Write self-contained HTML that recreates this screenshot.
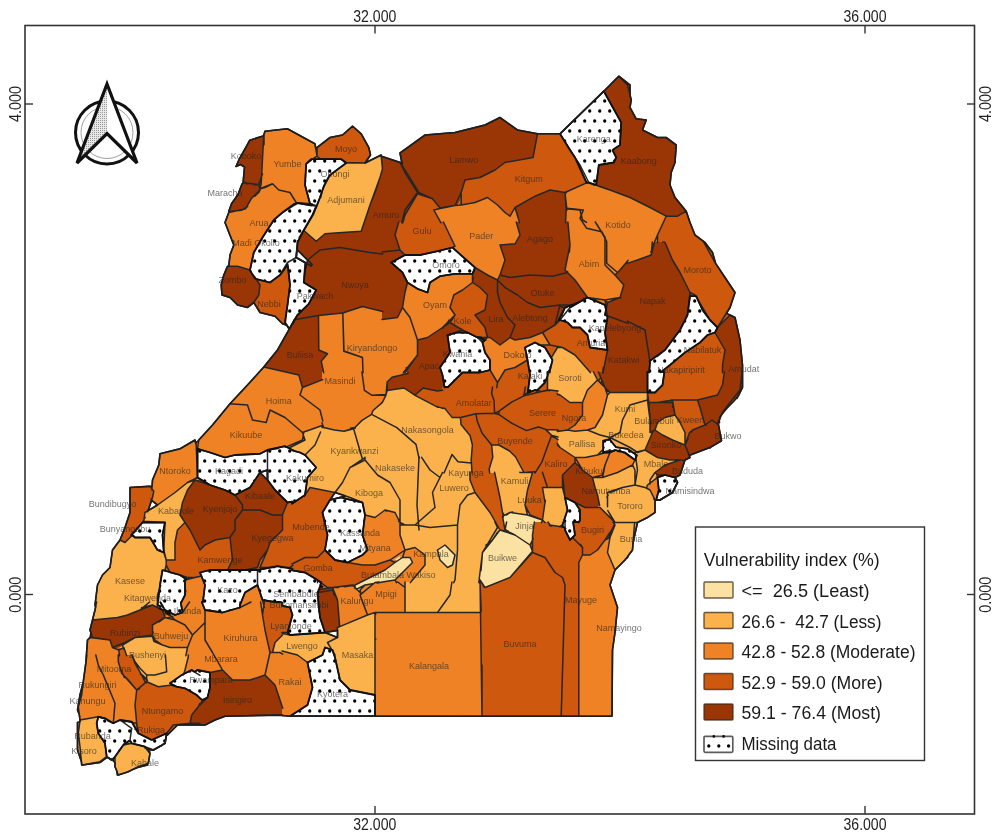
<!DOCTYPE html>
<html><head><meta charset="utf-8">
<style>
html,body{margin:0;padding:0;background:#fff;width:1000px;height:840px;overflow:hidden}
svg{display:block;-webkit-font-smoothing:antialiased;font-family:"Liberation Sans",sans-serif}
.least{fill:#FCE2A2}.less{fill:#FCB24C}.mod{fill:#EE8224}.more{fill:#CE580E}.most{fill:#9A3506}.na{fill:url(#dots)}
path{stroke:none}
.ol{fill:none;stroke:#1e1e1e;stroke-width:1.6;stroke-linejoin:round}
.nab{fill:none;stroke:#111;stroke-width:1.8;stroke-linejoin:round}
.bd{fill:none;stroke:#262626;stroke-width:1.5;stroke-linejoin:round;stroke-linecap:round}
.lab{font-size:9px;fill:#262626;fill-opacity:0.65}
.ax{font-size:16px;fill:#222}
.lg{font-size:17.5px;fill:#1a1a1a}
</style></head><body>
<svg width="1000" height="840" viewBox="0 0 1000 840">
<defs>
<pattern id="dots" patternUnits="userSpaceOnUse" width="10" height="20" x="0" y="1">
<rect width="10" height="20" fill="#fff"/><circle cx="4.7" cy="0" r="1.65" fill="#000"/><circle cx="4.7" cy="20" r="1.65" fill="#000"/><circle cx="-0.3" cy="10" r="1.65" fill="#000"/><circle cx="9.7" cy="10" r="1.65" fill="#000"/>
</pattern>
<pattern id="gdots" patternUnits="userSpaceOnUse" width="2" height="2">
<rect width="2" height="2" fill="#e8e8e8"/><rect width="1" height="1" fill="#9a9a9a"/>
</pattern>
</defs>
<rect x="0" y="0" width="1000" height="840" fill="#fff"/>
<g id="map">
<path class="least" d="M512.0,512.2L510.0,512.5L502.5,516.2L505.0,530.0L507.0,531.0L506.2,531.2L504.5,531.5L500.0,530.0L492.5,540.0L487.7,543.8L482.5,552.5L478.8,582.5L480.1,583.5L480.0,580.0L485.0,587.5L510.0,577.5L532.5,551.2L530.0,545.0L532.5,540.0L532.5,535.0L534.4,522.0L538.7,522.0L541.7,522.0L542.5,520.0L540.4,519.3L540.4,519.2L540.4,519.2L538.0,518.2L530.0,515.0L528.3,511.7L526.4,510.7L527.5,515.0L512.0,512.8ZM492.5,540.0L498.2,532.4L497.5,532.5ZM450.0,550.0L445.0,545.0L437.5,550.0L440.0,560.0L447.5,567.5L452.5,565.0L455.0,555.0ZM400.4,558.9L400.4,558.9L400.3,558.6L400.2,558.4L400.1,558.2L400.0,557.9L400.0,557.7L400.0,557.4L400.0,557.2L400.1,556.9L400.1,556.7L400.3,556.1L395.0,559.7L396.1,560.3L396.3,560.4L396.5,560.5L396.7,560.7L396.9,560.9L397.0,561.0L397.1,561.1L395.0,562.5L385.0,570.0L370.0,577.5L355.0,585.0L355.0,587.5L356.7,589.2L358.5,591.0L360.1,590.3L360.0,590.0L365.0,585.0L373.8,583.5L375.0,582.5L379.0,582.0L383.0,582.0L395.0,580.0L402.5,572.5L412.5,562.5L410.0,557.5L402.5,557.5Z"/>
<path class="less" d="M305.0,440.0L290.0,447.5L289.3,448.4L295.0,451.2L300.0,452.5L305.0,455.0L316.2,467.5L307.5,477.5L305.0,495.0L310.0,487.5L335.0,492.5L350.0,497.5L345.7,496.1L341.2,497.2L346.3,498.9L362.5,502.5L365.0,515.0L375.0,517.5L385.0,510.0L395.0,512.5L400.0,522.5L400.0,525.0L400.0,535.0L405.0,550.0L415.0,547.5L425.0,555.0L425.0,565.0L412.5,580.0L410.9,582.0L405.0,582.0L405.0,612.5L437.5,612.5L462.0,612.5L480.5,612.5L480.1,583.9L480.0,583.5L478.8,582.5L482.5,552.5L487.7,543.8L492.5,540.0L497.5,532.5L498.2,532.4L500.0,530.0L490.0,512.5L475.0,492.5L470.0,480.0L470.0,473.0L472.0,473.0L471.4,463.0L471.2,459.4L472.4,445.0L470.0,435.4L461.0,424.6L460.4,417.4L452.0,417.4L444.8,408.4L442.0,408.1L442.0,408.2L438.0,406.8L438.0,407.3L416.0,395.8L414.8,395.2L404.0,388.0L387.2,390.4L386.0,394.6L382.0,394.8L382.0,395.2L386.0,395.2L382.4,402.4L372.8,410.8L371.6,414.4L362.0,420.4L354.8,427.6L344.0,431.2L334.4,430.0L323.6,427.6L322.8,425.3L303.8,432.0L303.3,435.0ZM498.5,532.0L498.4,532.0L498.3,531.8L498.2,531.8L500.0,530.0ZM447.5,567.5L440.0,560.0L437.5,550.0L445.0,545.0L450.0,550.0L455.0,555.0L452.5,565.0ZM187.5,482.5L175.0,492.5L157.5,505.0L145.0,512.5L143.8,521.2L145.9,521.4L145.3,522.5L165.0,522.5L162.5,535.0L163.8,552.5L157.5,550.0L150.0,537.5L135.0,537.5L132.5,535.0L125.0,542.5L120.0,540.0L112.5,550.0L110.0,567.5L102.5,575.0L97.5,585.0L95.0,605.0L95.6,607.2L96.6,602.0L95.0,610.0L92.5,620.0L117.5,617.5L127.5,615.0L140.0,610.0L143.2,607.3L152.5,605.0L157.5,607.5L159.7,608.6L159.8,608.4L159.9,608.2L160.0,608.0L160.0,607.7L160.0,607.5L160.0,606.0L157.5,605.0L159.5,589.0L160.0,585.0L162.5,570.0L164.8,570.7L166.5,571.2L165.3,568.7L166.2,565.0L166.2,560.0L175.0,560.0L175.0,542.5L177.5,530.0L185.0,522.5L180.0,515.0L182.5,502.5L187.5,490.0L195.0,480.0ZM282.0,633.4L282.0,635.5L275.0,642.5L272.5,652.5L280.0,652.5L282.0,653.8L282.0,651.1L297.5,655.0L307.5,662.5L322.5,655.0L325.0,647.5L331.9,649.8L332.5,650.0L333.1,651.9L334.4,655.8L335.0,657.5L340.0,680.0L350.0,690.0L362.5,692.5L375.0,695.0L375.0,640.0L375.0,612.5L367.5,615.0L337.5,627.5L337.5,637.5L325.0,632.5L290.0,635.0L287.5,632.5L285.0,632.5L283.8,633.8ZM120.9,648.9L121.0,648.9L123.2,647.8L122.8,646.1L120.4,647.0L120.8,648.4L120.8,648.6ZM123.8,647.5L126.4,655.0L131.9,655.0L135.0,663.3L141.5,674.7L141.7,675.0L142.7,677.1L146.7,679.5L146.7,681.7L158.3,686.7L171.7,685.0L172.5,684.6L170.0,683.3L181.7,675.0L183.7,674.0L185.0,670.0L188.3,656.7L188.3,655.0L186.0,655.0L187.5,647.5L170.0,647.5L162.5,645.0L153.8,641.2L152.5,636.2L135.0,637.5L122.5,645.0L123.2,647.8ZM96.7,723.3L98.3,716.7L80.0,720.0L79.8,721.9L77.5,722.5L77.5,750.0L81.4,761.6L81.7,765.0L100.0,761.7L82.5,764.9L82.5,765.0L100.0,762.5L107.3,757.1L106.7,756.7L105.0,743.3L98.3,733.3ZM129.8,743.7L131.7,743.3L130.7,741.4L130.7,741.4L130.4,741.3L128.8,740.9L126.2,742.8L123.3,745.0ZM115.0,756.7L112.5,760.0L115.0,762.5L115.0,766.7L116.7,770.8L117.5,775.0L118.2,774.8L118.3,775.0L128.3,771.7L133.3,769.2L137.5,767.5L147.5,765.0L147.7,763.5L148.3,763.3L150.0,753.3L149.5,752.7L150.0,750.0L146.7,748.9L145.0,746.7L131.7,743.3L123.3,745.0ZM316.2,241.2L325.0,233.8L342.5,232.5L361.2,231.2L365.0,220.0L370.0,205.0L380.0,177.5L382.5,168.8L381.2,156.2L381.4,156.3L381.2,155.0L365.0,163.0L346.2,163.0L330.0,175.0L323.8,186.2L320.0,197.5L315.9,208.0L315.5,207.9L312.5,215.0L302.9,231.7L303.8,230.5ZM386.0,394.6L386.6,392.5L386.2,392.5ZM504.4,515.3L510.0,512.5L512.0,512.2L512.0,512.8L527.5,515.0L525.8,508.1L526.1,507.2L525.0,505.0L527.5,490.0L532.5,472.5L525.0,472.5L524.0,472.6L515.6,457.0L509.6,451.0L498.8,445.0L491.6,445.0L492.8,457.0L489.2,469.0L489.6,473.0L494.8,473.0L500.0,497.5L502.5,512.5ZM547.5,389.9L548.0,389.8L558.0,391.1L558.0,394.2L560.0,395.0L570.0,402.5L582.5,402.5L587.5,390.0L597.5,380.0L593.5,372.0L589.9,372.0L575.0,355.0L562.5,347.5L557.5,347.5L551.2,357.9L552.5,360.0L550.0,370.0L550.0,372.0L547.5,372.0ZM648.5,404.2L648.3,404.2L648.1,404.2L648.0,404.2L647.5,400.0L647.5,392.5L610.0,392.5L607.5,395.0L602.5,415.0L595.0,427.5L587.5,430.0L575.0,431.2L567.5,430.0L558.0,431.4L558.0,430.1L545.6,429.4L551.6,435.4L552.0,435.5L552.2,435.8L558.0,439.7L558.0,444.5L558.0,445.5L560.0,447.5L575.0,457.5L585.0,457.5L597.5,455.0L602.8,453.2L604.3,451.8L604.3,451.8L603.2,452.0L603.2,448.8L603.2,440.8L608.9,439.4L609.5,439.2L610.6,440.6L616.0,447.2L621.6,448.0L627.2,448.8L629.8,450.5L630.0,450.5L632.5,452.2L632.5,452.3L635.2,454.2L635.2,454.2L636.8,455.2L635.8,458.2L635.2,460.0L633.7,459.0L635.0,460.0L633.9,462.3L635.0,469.9L634.0,463.0L634.5,466.5L634.3,466.7L634.2,466.8L634.0,467.0L633.8,467.1L633.6,467.2L632.5,465.0L617.5,472.5L602.5,477.5L592.5,477.5L595.0,487.5L597.5,495.0L599.4,504.7L607.0,493.0L607.3,496.5L607.5,498.5L608.7,512.1L608.8,512.8L609.7,513.7L614.7,522.0L613.0,522.0L615.0,525.0L612.5,528.8L610.0,535.0L608.3,538.3L610.0,537.5L607.5,552.5L615.0,570.0L625.0,560.0L625.9,558.8L627.5,557.5L628.2,555.7L632.5,550.0L634.1,529.0L633.1,542.4L637.5,522.5L647.5,517.5L655.0,512.5L655.0,500.0L650.0,490.0L646.4,488.2L647.5,485.0L650.0,483.1L652.5,481.2L652.5,480.8L656.8,474.3L655.0,472.5L665.0,465.0L680.0,460.0L670.0,460.0L657.5,457.5L645.0,450.0L652.5,432.5L650.0,432.5L650.0,420.0L648.1,405.1L648.3,406.7L649.4,412.2L648.9,404.2L648.8,404.2ZM632.8,449.4L630.8,448.0L630.0,447.5ZM650.0,420.0L649.4,412.2L648.3,406.7ZM657.5,422.5L655.0,430.0L662.5,435.0L672.5,440.0L685.0,445.0L685.0,432.5L680.0,422.5L675.0,415.0L665.0,417.5ZM575.0,457.5L575.0,460.0L576.5,460.0ZM607.5,498.5L607.0,493.0L598.0,507.0L609.0,515.0ZM542.5,520.0L544.5,522.0L548.0,522.0L550.0,525.0L559.4,526.6L562.5,525.0L567.5,510.0L565.0,497.5L562.5,487.5L542.5,487.5L545.0,502.5Z"/>
<path class="mod" d="M297.5,203.0L311.8,205.5L311.9,205.4L312.1,205.2L312.2,205.0L312.3,204.8L312.4,204.5L312.4,204.4L310.0,203.8L305.0,185.0L306.2,163.8L311.2,159.2L312.7,159.2L317.1,159.2L318.4,158.3L318.6,158.1L318.8,158.0L318.9,157.8L317.0,156.2L315.0,143.8L298.8,135.0L287.5,128.8L265.0,131.2L263.8,135.0L261.2,183.8L260.0,188.8L258.8,191.2L251.2,198.8L245.5,208.8L228.8,212.5L225.0,222.5L233.8,245.0L230.0,255.0L228.8,266.2L237.5,266.2L250.0,270.0L253.8,252.5L262.5,237.5L273.8,220.0L282.5,212.5L294.2,204.0L294.3,204.0L294.4,204.2L294.6,204.4L294.8,204.6L294.9,204.6ZM302.5,387.5L298.8,375.0L263.8,367.0L247.5,385.0L230.0,403.8L212.5,425.0L198.8,440.0L197.1,441.8L195.8,443.2L195.0,440.0L180.0,448.8L160.0,453.8L158.8,465.0L152.5,480.0L152.1,486.1L150.0,486.2L151.9,488.8L153.8,491.2L152.5,497.5L151.6,500.3L157.5,505.0L175.0,492.5L187.5,482.5L195.0,480.0L196.9,480.6L198.6,479.7L198.8,479.6L199.0,479.5L199.2,479.3L199.4,479.2L199.5,479.0L199.6,478.8L197.5,477.5L197.5,451.4L197.5,448.8L210.0,452.5L225.0,457.5L235.0,455.0L260.0,453.8L267.5,450.0L285.0,446.2L286.3,446.9L289.3,448.4L290.0,447.5L305.0,440.0L303.3,435.0L303.8,432.0L303.8,432.0L322.8,425.3L323.6,427.6L334.4,430.0L344.0,431.2L354.8,427.6L362.0,420.4L371.6,414.4L372.8,410.8L382.4,402.4L386.0,395.2L382.0,395.2L382.0,394.8L386.0,394.6L387.2,382.0L392.0,377.2L407.6,373.6L408.0,372.0L403.9,372.0L417.5,355.0L417.5,340.0L427.5,337.5L442.5,327.5L444.4,326.2L447.5,322.5L447.9,323.2L448.3,321.7L455.0,315.0L450.0,307.5L453.8,295.0L462.5,290.0L472.5,282.5L472.5,273.8L455.0,273.8L440.0,276.2L430.0,282.5L427.5,292.5L417.5,288.8L407.5,282.5L405.0,292.5L402.5,307.5L397.5,317.5L382.0,319.4L382.0,311.3L362.5,306.5L342.8,313.0L318.5,315.5L318.8,350.0L327.5,353.8L321.2,361.2L323.6,372.0L322.0,372.0L322.0,379.9ZM165.0,610.0L169.7,614.7L169.1,614.9L166.3,613.4L166.9,615.3L166.2,615.5L166.0,615.6L165.8,615.7L165.5,615.8L165.3,615.9L165.1,616.1L164.9,616.2L164.8,616.4L164.7,616.6L165.0,617.5L152.5,625.0L152.5,635.0L155.0,640.0L155.2,640.2L155.2,640.2L154.9,640.3L154.7,640.4L154.5,640.5L154.2,640.5L154.0,640.5L153.6,640.5L153.8,641.2L162.5,645.0L170.0,647.5L187.5,647.5L186.0,655.0L188.3,655.0L188.3,656.7L185.0,670.0L183.7,674.0L191.7,670.0L194.6,671.9L197.5,670.0L210.0,672.5L222.5,670.0L232.5,680.0L250.0,680.0L265.0,675.0L275.0,685.0L280.0,700.0L282.0,706.0L282.0,715.5L290.0,716.2L307.5,705.0L312.5,687.5L307.5,662.5L297.5,655.0L282.0,651.1L282.0,653.8L280.0,652.5L270.0,652.5L265.0,630.0L262.5,615.0L263.9,605.5L262.5,600.0L257.5,585.0L245.0,592.5L240.0,605.0L240.0,607.5L222.5,612.5L205.0,610.0L201.8,602.0L202.9,602.0L205.0,585.0L201.4,575.9L195.0,577.5L185.0,580.0L185.0,595.0L180.9,603.1L182.5,612.5L175.0,615.0ZM116.7,648.5L116.8,648.5L119.2,647.5L119.2,647.5L115.9,648.8L112.5,647.5L110.0,640.0L90.0,637.5L87.5,640.0L85.9,662.4L86.7,656.7L83.3,681.7L81.7,695.0L83.3,681.7L80.0,695.0L77.5,710.0L79.3,714.5L80.0,720.0L98.3,716.7L105.0,718.3L113.3,723.3L120.0,720.0L131.7,721.7L132.1,722.4L136.7,723.3L135.0,705.0L136.7,690.0L123.5,675.3L123.3,675.0L121.7,673.3L118.3,661.7L118.3,655.0L119.4,655.0L118.8,650.0L116.4,649.1L116.5,648.9L116.6,648.7ZM136.5,723.3L132.1,722.4L136.1,729.4L137.5,730.0ZM317.0,156.2L317.0,147.5L315.8,148.5ZM415.0,358.1L407.5,367.5L408.9,367.0L415.0,358.5ZM387.2,390.4L387.2,382.0L386.2,392.5L386.6,392.5ZM400.1,556.9L400.0,557.2L400.0,557.4L400.0,557.7L400.0,557.9L400.1,558.2L400.2,558.4L400.3,558.6L400.4,558.9L400.4,558.9L402.5,557.5L410.0,557.5L412.5,562.5L402.5,572.5L395.0,580.0L383.0,582.0L379.0,582.0L375.0,582.5L361.4,593.9L373.8,583.5L365.0,585.0L360.0,590.0L360.1,590.3L358.5,591.0L360.8,593.3L352.5,585.0L332.5,587.5L333.5,592.0L337.5,600.0L339.7,626.6L367.5,615.0L375.0,612.5L375.0,716.2L462.0,716.2L482.0,716.2L480.5,612.5L462.0,612.5L405.0,612.5L405.0,587.5L405.0,582.0L410.9,582.0L412.5,580.0L425.0,565.0L425.0,555.0L415.0,547.5L405.0,550.0L400.0,535.0L400.0,525.0L400.0,522.5L395.0,512.5L385.0,510.0L375.0,517.5L365.0,515.0L362.5,535.0L367.5,550.0L362.5,555.0L347.5,562.5L362.5,565.0L375.0,565.0L390.0,560.0L392.6,561.3L400.3,556.1L400.1,556.7ZM458.8,205.0L458.8,203.5L457.9,205.3L458.8,205.2ZM518.8,220.0L515.0,207.5L510.0,216.2L505.0,212.5L497.5,205.0L487.5,197.5L475.0,202.5L461.2,205.0L457.9,205.3L455.0,205.5L433.8,210.0L440.6,222.0L443.4,222.0L455.0,246.2L452.5,247.5L465.0,258.8L475.0,267.5L487.5,275.0L497.5,280.0L500.0,275.0L505.0,260.0L500.0,245.0L515.0,243.8L520.0,235.0L516.3,222.0L519.2,222.0ZM628.0,260.4L628.0,263.2L637.5,260.0L651.2,255.0L651.6,250.8L651.7,250.8L652.5,250.0L654.5,242.0L654.5,242.0L657.2,242.0L657.5,241.3L657.5,235.0L666.2,216.2L650.0,207.5L630.0,197.5L610.0,190.0L596.2,185.0L587.5,182.5L565.0,192.5L566.2,208.8L565.6,222.0L567.9,222.0L570.0,245.0L565.0,270.0L567.5,272.5L575.0,280.0L587.5,297.5L588.5,297.9L588.5,297.9L588.5,297.9L605.0,305.0L605.7,304.8L605.0,300.0L607.5,302.5L620.0,297.5L623.8,285.0L615.0,275.0L620.0,270.0ZM654.5,242.0L654.5,242.0L657.5,235.0ZM651.6,250.5L652.3,242.0L651.8,248.3ZM606.0,307.0L605.9,306.4L605.0,305.0L605.4,306.8ZM540.0,345.0L550.0,345.0L542.5,332.5L530.0,337.5L515.0,340.0L510.0,337.5L500.0,345.0L490.0,337.5L487.5,337.5L482.5,342.5L485.0,352.5L490.0,360.0L490.0,370.0L497.5,382.5L505.0,370.0L515.0,367.5L527.5,360.0L525.0,347.5L535.0,342.5ZM587.5,390.0L582.5,402.5L582.5,415.0L575.0,425.0L567.5,430.0L575.0,431.2L587.5,430.0L595.0,427.5L602.5,415.0L607.5,395.0L610.0,392.5L608.9,391.4L606.1,390.9L605.0,387.5L601.1,383.6L601.7,379.8L600.8,377.6L598.5,381.0L597.5,380.0ZM634.3,466.7L634.5,466.5L633.9,462.3L635.0,460.0L625.0,452.5L615.0,450.0L610.0,452.5L605.0,452.5L597.5,455.0L585.0,457.5L575.0,457.5L576.5,460.0L575.0,460.0L575.0,462.4L575.2,462.7L582.5,470.0L592.5,477.5L602.5,477.5L617.5,472.5L632.5,465.0L633.6,467.2L633.8,467.1L634.0,467.0L634.2,466.8ZM656.3,477.2L656.1,477.1L655.9,476.9L655.7,476.8L655.4,476.4L652.5,480.8L652.5,481.2L647.5,485.0L646.4,488.2L650.0,490.0L654.7,499.4L655.0,500.0L656.2,500.0L658.8,490.0L657.5,477.5L657.3,477.5L657.0,477.5L656.8,477.4L656.5,477.3ZM607.5,552.5L610.0,537.5L605.0,540.0L597.5,550.0L590.0,555.0L582.5,555.0L578.8,562.5L578.8,716.2L612.0,716.2L612.5,650.0L615.0,632.5L617.5,607.5L610.0,585.0L615.0,570.0Z"/>
<path class="more" d="M342.5,135.0L330.0,137.5L317.0,147.5L317.0,156.2L318.9,157.8L318.8,158.0L318.6,158.1L318.4,158.3L317.1,159.2L341.2,159.2L346.2,163.0L365.0,163.0L365.0,163.0L365.0,163.0L370.5,155.0L368.8,147.5L361.2,133.8L352.5,126.2ZM417.5,193.8L405.0,215.0L403.0,222.0L398.7,222.0L395.0,235.0L400.0,250.0L405.0,255.0L420.0,255.0L437.5,251.2L452.5,247.5L455.0,246.2L443.4,222.0L440.6,222.0L433.8,210.0L440.1,208.6L440.0,208.0L432.5,198.8ZM251.2,272.5L255.0,278.8L255.8,278.9ZM282.5,323.8L286.2,325.0L286.8,325.2L285.0,322.5L287.5,305.0L290.0,285.0L287.5,262.5L288.0,266.6L287.7,267.0L287.5,265.0L280.0,275.0L270.0,282.5L255.8,278.9L260.0,285.0L258.8,295.0L253.8,302.5L260.0,312.5L275.0,316.2ZM438.0,406.8L442.0,408.2L442.0,408.1L444.8,408.4L452.0,417.4L460.4,417.4L461.0,424.6L470.0,435.4L472.4,445.0L471.2,459.4L472.0,473.0L470.0,473.0L470.0,480.0L475.0,492.5L490.0,512.5L500.0,530.0L504.5,531.5L506.2,531.2L507.0,531.0L506.1,530.6L505.0,530.0L502.5,516.2L503.2,515.9L504.4,515.3L502.5,512.5L500.0,497.5L494.8,473.0L489.6,473.0L489.2,469.0L492.8,457.0L491.6,445.0L498.8,445.0L509.6,451.0L515.6,457.0L524.0,472.6L527.4,472.3L525.0,472.5L532.5,472.5L527.5,490.0L525.0,505.0L526.1,507.2L525.8,508.1L526.4,510.7L528.3,511.7L530.0,515.0L542.5,520.0L545.0,502.5L542.5,487.5L547.5,487.5L562.5,487.5L562.5,475.0L575.0,462.5L575.0,457.5L560.0,447.5L558.0,445.5L558.0,439.7L551.6,435.4L545.6,429.4L558.0,430.1L558.0,431.4L567.5,430.0L575.0,425.0L582.5,415.0L582.5,402.5L570.0,402.5L560.0,395.0L558.0,394.2L558.0,391.1L548.0,389.8L547.5,389.9L547.5,376.2L545.0,382.5L537.1,390.4L535.0,390.0L527.8,392.9L530.0,375.0L527.5,360.0L515.0,367.5L505.0,370.0L497.5,382.5L490.0,370.0L480.0,372.5L462.5,372.5L452.5,382.5L448.0,387.0L442.0,387.0L442.0,390.4L438.0,390.9L438.0,391.1L423.2,388.0L414.8,395.2L416.0,395.8L438.0,407.3ZM524.0,395.8L541.8,391.4L547.3,390.0ZM143.8,521.2L144.0,519.5L145.0,512.5L148.1,510.6L152.5,497.5L153.8,491.2L150.0,486.2L130.0,487.5L130.0,500.0L130.0,512.5L125.0,527.5L120.0,540.0L125.0,542.5L132.0,535.5L131.2,535.0L142.5,522.5L145.3,522.5L145.9,521.4ZM305.0,495.0L292.0,503.7L292.0,501.6L287.5,502.5L282.5,515.0L282.5,530.0L270.0,542.5L267.5,550.0L261.2,558.5L258.3,565.2L257.5,567.5L257.5,567.7L257.5,568.0L257.6,568.2L257.7,568.4L257.8,568.7L257.9,568.9L258.1,569.1L258.2,569.3L258.4,569.4L258.6,569.6L258.8,569.7L258.9,569.7L270.8,567.5L277.5,566.2L285.0,567.5L285.0,567.5L292.0,568.7L292.0,570.3L305.0,572.5L317.5,580.0L320.2,582.0L321.2,582.0L321.0,582.6L320.3,585.2L325.0,588.8L332.5,587.5L352.5,585.0L352.9,585.4L355.0,585.0L370.0,577.5L385.0,570.0L395.0,562.5L397.1,561.1L397.0,561.0L396.9,560.9L396.7,560.7L396.5,560.5L396.3,560.4L396.1,560.3L395.0,559.7L392.6,561.3L390.0,560.0L375.0,565.0L362.5,565.0L347.5,562.5L335.0,560.0L325.0,550.0L327.5,535.0L322.5,512.5L330.0,500.0L335.0,492.5L310.0,487.5ZM200.0,572.5L210.0,570.0L227.5,570.0L232.5,560.0L230.0,537.5L215.0,540.0L205.0,545.0L200.0,550.0L195.0,540.0L190.0,530.0L185.0,522.5L177.5,530.0L175.0,542.5L175.0,560.0L166.2,560.0L166.2,565.0L169.8,572.1L180.0,575.0L186.8,579.5L195.0,577.5L201.4,575.9ZM169.8,572.1L166.2,565.0L165.3,568.7L166.5,571.2ZM355.0,585.0L352.9,585.4L355.0,587.5ZM270.0,652.5L272.5,652.5L275.0,642.5L282.0,635.5L282.0,633.4L283.8,633.8L285.0,632.5L287.5,632.5L292.5,615.0L290.0,607.5L282.0,605.5L282.0,602.6L280.0,602.0L274.5,602.0L262.5,600.0L263.9,605.5L262.5,615.0L265.0,630.0ZM116.7,648.5L116.6,648.7L116.5,648.9L116.4,649.1L118.8,650.0L119.4,655.0L118.3,655.0L118.3,661.7L121.7,673.3L123.3,675.0L123.5,675.3L136.7,690.0L135.0,705.0L136.7,723.3L136.5,723.3L137.5,730.0L137.8,730.2L138.3,733.3L151.7,740.0L166.7,733.3L166.3,735.5L167.5,735.0L177.5,725.0L192.5,725.0L191.7,723.3L190.0,723.3L191.7,715.0L198.3,706.7L200.0,703.3L200.0,705.0L202.5,700.0L200.0,698.3L196.7,695.0L185.0,688.3L176.7,686.7L171.7,685.0L158.3,686.7L146.7,681.7L146.7,679.5L142.7,677.1L145.5,682.6L141.7,675.0L135.0,663.3L131.9,655.0L126.4,655.0L123.8,647.5L121.0,648.9L120.9,648.9L120.8,648.6L120.8,648.4L120.4,647.0L116.8,648.5ZM560.0,133.8L537.5,133.8L533.0,157.5L505.0,162.5L495.0,170.0L480.0,177.5L465.0,180.0L461.2,192.5L461.2,198.3L458.8,203.5L458.8,205.0L458.8,205.2L461.2,205.0L475.0,202.5L487.5,197.5L497.5,205.0L505.0,212.5L510.0,216.2L515.0,207.5L535.0,196.2L550.0,190.0L565.0,192.5L586.6,182.9L575.0,157.5L570.0,150.0ZM480.0,287.5L472.5,282.5L462.5,290.0L453.8,295.0L450.0,307.5L455.0,315.0L448.3,321.7L447.9,323.2L448.2,323.7L450.0,322.5L462.5,330.0L453.8,332.9L454.0,333.4L457.5,332.5L465.0,332.5L467.5,332.5L477.5,337.5L487.5,337.5L485.0,327.5L475.0,315.0L485.0,310.0L487.5,295.0ZM498.3,531.8L498.4,532.0L498.5,532.0L500.0,530.0L498.2,531.8ZM512.0,575.2L510.0,577.5L485.0,587.5L480.0,580.0L482.0,716.2L561.2,716.2L578.8,716.2L578.8,562.5L582.5,555.0L590.0,555.0L597.5,550.0L605.0,540.0L608.3,538.3L610.0,535.0L612.5,528.8L615.0,525.0L613.0,522.0L614.5,522.0L614.7,522.0L609.7,513.7L608.8,512.8L609.0,515.0L603.5,511.0L598.7,507.5L585.0,507.5L575.0,502.5L580.0,510.0L580.0,520.0L579.0,522.0L573.1,522.0L575.0,535.0L572.5,537.5L570.0,540.0L565.0,530.0L565.0,527.5L559.4,526.6L550.0,525.0L548.0,522.0L544.5,522.0L542.5,520.0L541.7,522.0L534.4,522.0L532.5,535.0L532.5,540.0L530.0,545.0L532.5,551.2ZM657.5,235.0L657.5,241.3L657.2,242.0L655.0,242.0L657.5,242.0L663.0,242.0L665.0,242.5L672.5,260.0L680.0,272.5L690.0,292.5L692.4,293.7L692.1,296.2L695.8,296.2L696.2,296.2L697.8,299.7L702.5,310.0L710.0,320.0L717.5,327.5L725.4,319.6L728.7,314.3L726.4,313.2L730.0,307.5L735.0,292.5L725.0,277.5L715.6,263.4L712.5,252.5L705.0,242.5L695.0,235.0L690.0,222.5L686.2,211.2L677.5,216.2L666.2,216.2ZM558.8,320.0L555.3,323.8L555.0,325.0L559.4,320.6ZM542.5,332.5L550.0,345.0L540.0,345.0L545.0,347.5L551.2,357.9L557.5,347.5L562.5,347.5L575.0,355.0L589.9,372.0L593.5,372.0L597.5,380.0L598.5,381.0L600.8,377.6L598.4,372.0L603.1,372.0L607.5,350.0L590.0,347.5L587.5,335.0L580.0,327.5L572.5,327.5L567.5,322.5L560.0,320.0L555.0,325.0ZM700.0,342.5L685.0,352.5L670.0,365.0L661.2,372.0L664.4,372.0L662.5,385.0L655.0,392.5L647.5,392.5L647.8,395.0L647.7,395.0L647.5,395.0L647.5,400.0L648.0,404.2L648.1,404.2L648.3,404.2L648.5,404.2L648.8,404.2L648.9,404.2L648.8,402.5L657.5,402.5L668.2,402.5L672.5,402.5L672.7,403.3L673.1,405.6L675.0,415.0L680.0,422.5L685.0,432.5L685.0,445.0L689.5,432.8L692.5,430.0L705.0,425.0L700.0,407.5L697.5,400.0L717.5,395.0L722.5,385.0L724.4,372.0L722.5,372.0L722.5,365.0L725.0,350.0L715.0,332.5L707.5,335.0ZM672.5,400.0L669.7,400.5L667.2,400.9ZM673.0,403.2L672.6,400.8L672.5,400.0ZM550.0,372.0L550.0,370.0L549.2,372.0ZM563.0,527.2L562.5,525.0L559.4,526.6Z"/>
<path class="most" d="M242.0,184.0L238.0,194.5L231.5,203.8L228.8,211.5L229.1,211.5L228.8,212.5L236.5,210.8L243.6,209.2L245.5,208.8L246.3,207.3L251.2,198.8L258.8,191.2L259.9,189.0L260.0,188.8L260.7,185.8L261.2,183.8L261.6,176.5L263.7,135.8L263.8,135.0L263.4,135.9L249.8,140.2L245.8,147.5L239.2,159.2L236.0,166.5L240.5,164.5L244.5,167.0L243.2,181.5L243.1,182.9ZM307.5,260.0L305.0,270.0L303.8,282.5L316.2,290.0L308.8,303.8L297.5,315.0L294.5,319.8L288.8,330.0L277.5,350.0L263.8,367.0L298.8,375.0L302.5,387.5L322.0,379.9L322.0,372.0L323.6,372.0L321.2,361.2L327.5,353.8L318.8,350.0L318.5,315.5L342.8,313.0L362.5,306.5L378.0,310.3L382.0,311.3L382.0,319.4L397.5,317.5L402.5,307.5L405.0,292.5L407.5,282.5L402.5,272.5L391.2,262.5L405.0,255.0L400.0,250.0L395.0,235.0L398.7,222.0L402.0,222.0L403.0,222.0L405.0,215.0L407.3,211.1L407.3,211.1L407.3,211.0L417.5,193.8L419.3,194.3L432.5,198.8L440.0,208.0L440.1,208.6L455.0,205.5L457.9,205.3L461.2,198.3L461.2,192.5L465.0,180.0L480.0,177.5L495.0,170.0L505.0,162.5L533.0,157.5L537.5,133.8L517.5,130.0L500.0,117.5L485.0,125.0L455.0,132.5L425.0,135.0L400.0,153.0L401.9,163.1L400.0,162.5L381.2,156.2L382.5,168.8L380.0,177.5L370.0,205.0L361.2,231.2L342.5,232.5L325.0,233.8L316.2,241.2L303.8,230.5L302.9,231.7L302.5,232.5L297.5,242.5L296.9,249.4L297.5,250.0ZM258.8,295.0L260.0,285.0L255.8,278.9L255.0,278.8L251.2,272.5L250.0,270.0L237.5,266.2L227.5,266.2L223.8,275.0L221.2,285.0L222.0,295.0L230.0,297.5L237.5,305.0L247.5,307.5L253.8,302.5ZM250.0,487.5L235.0,495.0L225.0,490.0L210.0,485.0L200.1,479.1L199.6,478.9L199.5,479.0L199.4,479.2L199.2,479.3L199.0,479.5L198.8,479.6L198.6,479.7L197.5,480.3L197.5,480.4L197.4,480.6L197.4,480.8L196.9,480.6L195.0,480.0L187.5,490.0L182.5,502.5L180.0,515.0L185.0,522.5L190.0,530.0L195.0,540.0L200.0,550.0L205.0,545.0L215.0,540.0L230.0,537.5L232.5,560.0L227.5,570.0L245.0,570.0L257.5,570.0L258.4,569.8L258.4,569.8L258.7,569.7L258.7,569.7L258.6,569.6L258.4,569.4L258.2,569.3L258.1,569.1L257.9,568.9L257.8,568.7L257.7,568.4L257.6,568.2L257.5,568.0L257.5,567.7L257.5,567.5L257.9,566.3L258.3,565.2L261.2,558.5L267.5,550.0L270.0,542.5L282.5,530.0L282.5,515.0L287.5,502.5L275.0,490.0L267.5,480.0L260.0,472.5ZM319.0,589.8L318.2,592.4L317.5,592.5L320.0,617.5L325.0,632.5L337.5,630.4L337.5,627.5L339.7,626.6L337.5,600.0L333.5,592.0L332.5,587.5L325.0,588.8L322.2,586.7L319.8,587.1ZM127.5,615.0L117.5,617.5L92.5,620.0L90.0,630.0L90.9,632.7L90.4,637.1L90.0,637.5L90.3,637.5L94.0,638.0L98.4,638.6L110.0,640.0L112.5,647.5L115.9,648.8L122.8,646.1L122.5,645.0L132.9,638.8L135.0,637.5L152.5,636.2L152.9,638.0L153.6,640.5L154.0,640.5L154.2,640.5L154.5,640.5L154.7,640.4L154.9,640.3L155.2,640.2L155.2,640.2L155.0,640.0L154.0,638.0L152.5,635.0L152.5,625.0L165.0,617.5L164.7,616.6L164.8,616.4L164.9,616.2L165.1,616.1L165.3,615.9L165.5,615.8L165.8,615.7L166.0,615.6L166.2,615.5L166.9,615.3L165.2,610.2L165.0,610.0L164.7,609.5L164.7,609.5L164.4,609.7L164.2,609.7L164.0,609.8L163.7,609.9L163.5,609.9L163.2,609.9L163.0,609.8L162.7,609.8L162.5,609.7L159.7,608.6L159.7,608.6L152.5,605.0L143.2,607.3L140.0,610.0ZM250.0,680.0L232.5,680.0L222.5,670.0L210.0,672.5L210.0,687.5L207.5,697.5L202.5,700.0L200.0,705.0L200.0,703.3L198.3,706.7L191.7,715.0L190.0,723.3L191.7,723.3L192.5,725.0L205.0,725.0L215.0,720.0L225.0,716.2L282.0,715.1L282.0,706.0L280.0,700.0L275.0,685.0L265.0,675.0ZM519.2,222.0L516.3,222.0L520.0,235.0L515.0,243.8L500.0,245.0L505.0,260.0L500.0,275.0L497.5,280.0L487.5,275.0L475.0,267.5L472.5,273.8L472.5,282.5L480.0,287.5L487.5,295.0L485.0,310.0L475.0,315.0L485.0,327.5L487.5,337.5L490.0,337.5L500.0,345.0L510.0,337.5L515.0,340.0L530.0,337.5L542.5,332.5L555.0,325.0L559.6,306.4L555.3,323.8L558.8,320.0L565.0,307.5L571.7,305.0L572.5,305.0L575.0,303.8L579.5,302.0L585.2,298.8L587.4,297.6L587.4,297.6L587.5,297.5L575.0,280.0L567.5,272.5L565.0,270.0L570.0,245.0L567.9,222.0L565.6,222.0L566.2,208.8L565.0,192.5L550.0,190.0L535.0,196.2L515.0,207.5L518.8,220.0ZM605.0,305.0L605.9,306.4L605.7,304.8ZM427.5,337.5L417.5,340.0L417.5,355.0L415.0,358.1L415.0,358.5L408.9,367.0L407.5,367.5L403.9,372.0L405.4,372.0L408.0,372.0L407.6,373.6L392.0,377.2L387.2,382.0L387.2,390.4L404.0,388.0L414.8,395.2L423.2,388.0L438.0,391.1L438.0,390.9L442.0,390.4L442.0,387.0L444.5,387.0L442.5,375.0L440.0,367.5L450.0,352.5L447.5,335.0L462.5,330.0L450.0,322.5L448.2,323.7L447.5,322.5L444.4,326.2L442.5,327.5ZM447.5,335.0L454.0,333.4L453.8,332.9ZM485.0,340.0L487.5,337.5L480.0,337.5ZM605.0,387.5L606.1,390.9L608.9,391.4L610.0,392.5L647.5,392.5L647.5,372.0L649.2,372.0L650.0,362.5L645.0,330.0L649.8,360.9L665.0,350.0L680.0,330.0L687.5,315.0L690.0,296.2L692.1,296.2L692.4,293.7L690.0,292.5L680.0,272.5L672.5,260.0L665.0,242.5L663.0,242.0L654.5,242.0L652.5,250.0L651.6,250.9L651.2,255.0L637.5,260.0L628.0,263.2L628.0,260.4L620.0,270.0L615.0,275.0L623.8,285.0L620.0,297.5L607.5,302.5L605.0,300.0L606.2,308.8L605.0,315.0L607.3,315.8L607.5,317.5L605.0,332.5L607.5,350.0L603.1,372.0L598.4,372.0L601.7,379.8L601.1,383.6ZM575.0,502.5L585.0,507.5L598.7,507.5L598.0,507.0L599.4,504.7L597.5,495.0L595.0,487.5L592.5,477.5L582.5,470.0L575.0,462.5L562.5,475.0L562.5,487.5L565.0,497.5ZM621.2,122.5L620.0,145.0L612.5,150.0L616.2,157.5L613.8,162.5L598.8,165.0L596.2,185.0L610.0,190.0L630.0,197.5L650.0,207.5L666.2,216.2L677.5,216.2L686.2,211.2L675.0,197.5L670.0,185.0L671.2,172.5L675.0,162.5L676.2,145.0L666.2,137.5L657.5,137.5L642.5,130.0L646.2,120.0L636.2,118.8L630.0,107.5L631.2,100.0L630.0,95.0L630.0,85.0L618.8,76.2L603.8,91.2ZM742.5,365.0L740.0,340.0L735.0,317.5L730.0,315.0L728.7,314.3L725.4,319.6L717.5,327.5L715.0,332.5L725.0,350.0L722.5,365.0L722.5,372.0L724.4,372.0L722.5,385.0L717.5,395.0L697.5,400.0L700.0,407.5L705.0,425.0L692.5,430.0L689.5,432.8L685.0,445.0L672.5,440.0L662.5,435.0L655.0,430.0L657.5,422.5L665.0,417.5L675.0,415.0L672.5,402.5L648.8,402.5L650.0,420.0L650.0,432.5L652.5,432.5L645.0,450.0L657.5,457.5L670.0,460.0L680.0,460.0L665.0,465.0L655.0,472.5L656.8,474.3L655.4,476.4L655.7,476.8L655.9,476.9L656.1,477.1L656.3,477.2L656.5,477.3L656.8,477.4L657.0,477.5L657.3,477.5L657.5,477.5L665.0,475.0L675.0,477.5L680.0,475.0L685.0,460.0L690.0,457.5L689.2,455.4L689.5,455.2L708.5,448.0L710.2,448.0L710.5,447.2L721.5,440.8L718.5,424.8L718.9,422.5L719.1,421.6L719.3,420.5L720.0,416.8L721.6,414.8L726.5,408.8L734.2,400.8L738.5,395.6L742.5,387.5ZM686.0,447.3L685.9,447.3L685.0,445.0ZM718.9,421.4L718.7,422.1L719.3,420.5ZM718.5,422.5L717.8,424.2L718.7,422.1ZM647.7,395.0L647.8,395.0L647.5,392.5L647.5,395.0Z"/>
<path class="na" d="M142.5,522.5L131.2,535.0L132.0,535.5L132.5,535.0L135.0,537.5L150.0,537.5L157.5,550.0L163.8,552.5L162.5,535.0L165.0,522.5ZM205.0,585.0L202.9,602.0L201.8,602.0L205.0,610.0L222.5,612.5L240.0,607.5L240.0,605.0L245.0,592.5L257.5,585.0L262.5,600.0L274.5,602.0L280.0,602.0L282.0,602.6L282.0,605.5L290.0,607.5L292.5,615.0L287.5,632.5L290.0,635.0L325.0,632.5L320.0,617.5L317.7,594.4L317.5,592.5L318.2,592.4L319.8,587.1L322.2,586.7L322.4,586.8L320.3,585.2L321.0,582.6L320.5,584.7L321.2,582.0L320.2,582.0L318.0,580.4L317.5,580.0L305.0,572.5L292.0,570.3L292.0,568.7L277.5,566.2L257.5,570.0L245.0,570.0L227.5,570.0L210.0,570.0L200.0,572.5ZM162.5,570.0L160.0,585.0L157.5,605.0L160.0,606.0L160.0,607.5L160.0,607.7L160.0,608.0L159.9,608.2L159.8,608.4L159.7,608.6L162.5,609.7L162.7,609.8L163.0,609.8L163.2,609.9L163.5,609.9L163.7,609.9L164.0,609.8L164.2,609.7L164.4,609.7L164.7,609.5L164.7,609.5L165.0,610.0L175.0,615.0L182.5,612.5L180.9,603.1L185.0,595.0L185.0,580.0L186.8,579.5L180.0,575.0ZM160.2,602.0L163.5,607.5L163.4,607.4ZM166.3,613.4L169.1,614.9L169.7,614.7L165.2,610.2ZM210.0,672.5L197.5,670.0L194.6,671.9L191.7,670.0L181.7,675.0L170.0,683.3L176.7,686.7L185.0,688.3L196.7,695.0L200.0,698.3L202.5,700.0L207.5,697.5L210.0,687.5ZM172.8,684.7L172.5,684.6L171.7,685.0L172.3,685.2L176.7,686.7ZM137.5,730.0L136.1,729.4L138.3,733.3L137.8,730.2ZM151.7,740.0L138.3,733.3L131.7,721.7L120.0,720.0L113.3,723.3L105.0,718.3L98.3,716.7L96.7,723.3L98.3,733.3L105.0,743.3L106.7,756.7L111.7,760.0L112.1,759.6L112.5,760.0L115.0,756.7L123.3,745.0L128.8,740.9L130.4,741.3L130.7,741.4L130.7,741.4L131.7,743.3L145.0,746.7L146.1,748.2L152.5,750.0L152.9,749.8L153.3,750.0L159.2,746.7L162.5,745.0L162.6,744.7L162.1,745.0L165.0,743.3L166.7,733.3ZM311.8,205.5L297.5,203.0L294.9,204.6L294.8,204.6L294.6,204.4L294.4,204.2L294.3,204.0L294.2,204.0L282.5,212.5L273.8,220.0L262.5,237.5L253.8,252.5L250.0,270.0L251.2,272.5L252.2,273.9L255.8,278.9L270.0,282.5L280.0,275.0L287.5,265.0L287.7,267.0L288.0,266.6L290.0,285.0L287.5,305.0L285.0,322.5L289.3,329.0L294.5,319.8L297.5,315.0L308.8,303.8L316.2,290.0L303.8,282.5L305.0,270.0L306.6,263.4L305.0,262.5L296.2,257.5L297.5,242.5L302.5,232.5L312.5,215.0L315.5,207.9L315.9,208.0L316.8,205.7L320.0,197.5L322.5,190.0L323.8,186.2L326.2,181.8L329.7,175.5L330.0,175.0L346.2,163.0L341.2,159.2L311.2,159.2L306.2,163.8L305.0,185.0L310.0,203.8L312.4,204.4L312.4,204.5L312.3,204.8L312.2,205.0L312.1,205.2L311.9,205.4ZM452.5,247.5L437.5,251.2L420.0,255.0L405.0,255.0L391.2,262.5L402.5,272.5L407.5,282.5L417.5,288.8L427.5,292.5L430.0,282.5L440.0,276.2L455.0,273.8L472.5,273.8L475.0,267.5L465.0,258.8ZM490.0,360.0L485.0,352.5L482.5,342.5L483.0,342.0L484.8,340.2L484.5,339.8L480.0,337.5L477.5,337.5L467.5,332.5L457.5,332.5L447.5,335.0L450.0,352.5L440.0,367.5L442.5,375.0L444.5,387.0L448.0,387.0L452.5,382.5L462.5,372.5L480.0,372.5L490.0,370.0ZM287.5,502.5L292.0,501.6L292.0,503.7L305.0,495.0L307.5,477.5L316.2,467.5L305.0,455.0L300.0,452.5L295.0,451.2L285.0,446.2L267.5,450.0L260.0,453.8L235.0,455.0L225.0,457.5L210.0,452.5L197.5,448.8L197.5,477.5L210.0,485.0L225.0,490.0L235.0,495.0L250.0,487.5L260.0,472.5L267.5,470.0L267.5,480.0L275.0,490.0ZM362.5,502.5L346.3,498.9L341.2,497.2L340.0,497.5L330.0,500.0L322.5,512.5L327.5,535.0L325.0,550.0L335.0,560.0L347.5,562.5L362.5,555.0L367.5,550.0L362.5,535.0L365.0,515.0ZM340.0,680.0L335.0,657.5L332.5,650.0L325.0,647.5L322.5,655.0L307.5,662.5L312.5,687.5L307.5,705.0L290.0,716.2L375.0,716.2L375.0,695.0L362.5,692.5L350.0,690.0ZM612.5,150.0L620.0,145.0L621.2,122.5L603.8,91.2L560.0,133.8L570.0,150.0L575.0,157.5L586.6,182.9L587.5,182.5L595.0,184.7L595.1,184.6L588.8,182.5L596.2,185.0L598.8,165.0L613.8,162.5L616.2,157.5ZM605.4,306.8L606.0,310.0L606.2,308.8L606.0,307.0ZM559.4,320.6L560.0,320.0L567.5,322.5L572.5,327.5L580.0,327.5L587.5,335.0L590.0,347.5L607.5,350.0L605.0,332.5L607.5,317.5L607.3,315.8L607.2,315.8L607.2,315.8L605.0,315.0L606.0,310.0L605.0,305.0L587.5,297.5L570.0,307.5L579.5,302.0L575.0,303.8L572.5,305.0L571.7,305.0L565.0,307.5L558.8,320.0ZM710.0,320.0L702.5,310.0L696.2,296.2L690.0,296.2L687.5,315.0L680.0,330.0L665.0,350.0L649.8,360.9L650.0,362.5L649.2,372.0L647.5,372.0L647.5,392.5L655.0,392.5L662.5,385.0L664.4,372.0L661.2,372.0L670.0,365.0L685.0,352.5L700.0,342.5L707.5,335.0L715.0,332.5L717.5,327.5ZM552.5,360.0L545.0,347.5L535.0,342.5L525.0,347.5L527.5,360.0L530.0,375.0L527.8,392.9L535.0,390.0L537.1,390.4L545.0,382.5L547.5,376.2L547.5,372.0L549.2,372.0L550.0,370.0ZM632.5,452.2L630.0,450.5L629.8,450.5L627.2,448.8L616.0,447.2L609.5,439.2L603.2,440.8L603.2,452.0L604.3,451.8L604.3,451.8L602.8,453.2L605.0,452.5L610.0,452.5L613.2,450.9L615.0,450.0L625.0,452.5L633.7,459.0L635.2,460.0L636.8,455.2L632.5,452.3ZM675.0,477.5L665.0,475.0L657.5,477.5L658.8,490.0L656.2,500.0L660.0,500.0L672.5,492.5L677.5,482.5ZM565.0,527.5L565.0,530.0L570.0,540.0L575.0,535.0L573.1,522.0L579.0,522.0L580.0,520.0L580.0,510.0L575.0,502.5L565.0,497.5L567.5,510.0L562.5,525.0L563.0,527.2Z"/>
<path class="bd" d="M263.7,135.8L249.8,140.2L245.8,147.5L239.2,159.2L236.0,166.5L240.5,164.5L244.5,167.0L243.2,181.5L245.8,183.1M245.8,183.1L247.4,184.0M253.8,184.8L256.4,184.4M256.4,184.4L259.0,184.0L261.6,176.5M261.6,176.5L262.5,174.0M264.0,144.8L264.0,135.8M243.2,182.8L242.0,184.0L238.0,194.5L231.5,203.8L228.8,211.5L236.5,210.8M236.5,210.8L242.0,210.2L243.6,209.2M243.6,209.2L246.3,207.3M246.3,207.3L247.7,206.4M254.9,196.1L255.0,196.0L259.4,191.6M260.1,190.2L259.9,189.0M259.9,189.0L259.0,184.8L256.4,184.4M256.4,184.4L245.8,183.1M245.8,183.1L243.2,182.8M265.0,131.2L263.8,135.0L263.7,135.8M263.7,135.8L261.6,176.5M261.6,176.5L261.2,183.8L260.0,188.8M260.0,188.8L265.0,187.5L272.5,183.8M272.5,183.8L278.8,190.0M278.8,190.0L290.0,192.5M290.0,192.5L296.2,202.5M296.2,202.5L310.0,203.8M310.0,203.8L305.0,185.0M305.0,185.0L306.2,163.8M306.2,163.8L311.2,160.3M311.6,160.0L312.7,159.2M312.7,159.2L317.0,156.2M317.0,156.2L315.0,143.8L298.8,135.0L287.5,128.8L265.0,131.2M317.0,147.5L317.0,156.2M317.0,156.2L320.0,158.8L341.2,159.2M341.2,159.2L346.2,162.5L365.0,163.0M365.0,163.0L370.5,155.0L368.8,147.5L361.2,133.8L352.5,126.2L342.5,135.0L330.0,137.5L317.0,147.5M311.2,159.2L306.2,163.8M310.0,203.8L316.8,205.7M320.7,197.7L322.5,190.0M322.5,190.0L326.2,181.8M326.2,181.8L328.8,176.2L329.7,175.5M329.7,175.5L346.2,163.0M346.2,163.0L341.2,159.2M341.2,159.2L312.7,159.2M312.7,159.2L311.2,159.2M346.2,163.0L330.0,175.0L329.7,175.5M329.7,175.5L326.2,181.8M326.2,181.8L323.8,186.2L322.5,190.0M322.5,190.0L320.0,197.5L316.8,205.7M316.8,205.7L313.8,213.8L303.8,230.5M303.8,230.5L316.2,241.2M316.2,241.2L325.0,233.8M325.0,233.8L342.5,232.5M342.5,232.5L361.2,231.2M361.2,231.2L365.0,220.0M365.0,220.0L370.0,205.0M370.0,205.0L375.0,192.5L380.0,177.5M380.0,177.5L382.5,168.8M382.5,168.8L381.4,156.3M381.4,156.3L381.2,155.0L365.0,163.0M365.0,163.0L346.2,163.0M381.2,156.2L382.5,168.8M380.0,177.5L370.0,205.0M303.8,230.5L302.9,231.7M302.9,231.7L299.2,237.4M297.5,240.8L297.5,242.5M297.5,242.5L297.5,250.0L307.5,260.0M307.5,260.0L320.0,250.0M320.0,250.0L340.0,247.5M340.0,247.5L370.0,252.5M370.0,252.5L382.7,253.9M401.8,222.8L405.0,210.0L417.5,192.5L405.0,172.5L400.0,162.5L381.4,156.3M297.5,203.0L282.5,212.5M282.5,212.5L273.8,220.0M273.8,220.0L262.5,237.5M262.5,237.5L253.8,252.5M253.8,252.5L250.0,270.0M250.0,270.0L252.2,273.9M252.2,273.9L255.0,278.8M255.8,278.9L270.0,282.5M270.0,282.5L280.0,275.0M280.0,275.0L287.5,262.5M287.5,262.5L296.2,257.5M296.2,257.5L297.5,242.5M297.5,242.5L302.5,232.5L302.9,231.7M302.9,231.7L312.5,215.0L316.2,206.2L297.5,203.0M259.9,189.0L258.8,191.2L251.2,198.8L246.3,207.3M246.3,207.3L245.5,208.8L243.6,209.2M243.6,209.2L236.5,210.8M236.5,210.8L228.8,212.5L225.0,222.5L233.8,245.0L230.0,255.0L228.8,266.2M228.8,266.2L237.5,266.2M237.5,266.2L250.0,270.0M282.5,212.5L296.2,202.5M272.5,183.8L260.0,188.8M227.5,266.2L223.8,275.0L221.2,285.0L222.0,295.0L230.0,297.5L237.5,305.0L247.5,307.5L253.8,302.5M253.8,302.5L258.8,295.0M258.8,295.0L260.0,285.0M260.0,285.0L255.8,278.9M255.8,278.9L252.2,273.9M252.2,273.9L251.2,272.5M251.2,272.5L250.0,270.0M228.8,266.2L227.5,266.2M251.2,272.5L255.0,278.8M253.8,302.5L260.0,312.5L275.0,316.2L282.5,323.8L286.2,325.0L285.0,322.5M285.0,322.5L287.5,305.0M287.5,305.0L290.0,285.0M290.0,285.0L287.5,265.0L280.0,275.0M287.5,262.5L290.0,285.0M285.0,322.5L289.3,329.0M293.2,323.6L295.2,319.6M295.2,319.6L297.5,315.0M297.5,315.0L308.8,303.8M308.8,303.8L316.2,290.0M316.2,290.0L303.8,282.5M303.8,282.5L305.0,262.5L296.2,257.5M307.5,260.0L305.0,270.0L303.8,282.5M297.5,315.0L294.5,319.8M295.2,319.6L318.5,315.5M318.5,315.5L342.8,313.0M343.5,312.8L362.5,306.5M362.5,306.5L382.7,311.5M400.0,153.0L402.5,166.2L411.2,180.0L418.8,192.5L432.5,198.8M432.5,198.8L440.0,208.0M440.0,208.0L455.0,205.5M455.0,205.5L461.2,192.5M461.2,192.5L465.0,180.0M465.0,180.0L480.0,177.5M480.0,177.5L495.0,170.0M495.0,170.0L505.0,162.5M505.0,162.5L533.0,157.5M533.0,157.5L537.5,133.8M537.5,133.8L517.5,130.0L500.0,117.5L485.0,125.0L455.0,132.5L425.0,135.0L400.0,153.0M417.5,193.8L405.0,215.0L402.8,222.7M432.5,198.8L417.5,193.8M461.2,192.5L461.2,205.0M461.2,205.0L475.0,202.5M475.0,202.5L487.5,197.5M487.5,197.5L497.5,205.0M497.5,205.0L505.0,212.5M505.0,212.5L510.0,216.2M510.0,216.2L515.0,207.5M515.0,207.5L535.0,196.2M535.0,196.2L550.0,190.0M550.0,190.0L565.0,192.5M565.0,192.5L566.4,192.7M586.6,182.9L575.0,157.5M574.6,156.9L560.0,133.8M560.0,133.8L537.5,133.8M433.8,210.0L441.0,222.8M519.4,222.7L518.8,220.0M518.8,220.0L515.0,207.5M461.2,205.0L455.0,205.5M455.0,205.5L440.1,208.6M440.1,208.6L433.8,210.0M593.5,185.0L595.0,185.0L595.0,184.7M630.0,95.0L630.0,85.0M630.0,85.0L618.8,76.2M566.9,210.0L566.8,208.8M566.8,208.8L565.0,192.5M560.0,133.8L570.0,150.0L575.0,157.5M575.0,157.5L580.0,165.0L588.8,182.5L595.1,184.6M595.1,184.6L596.2,185.0M596.2,185.0L598.8,165.0M598.8,165.0L613.8,162.5M613.8,162.5L616.2,157.5M616.2,157.5L612.5,150.0M612.5,150.0L620.0,145.0M620.0,145.0L621.2,122.5M621.2,122.5L603.8,91.2M603.8,91.2L560.0,133.8M596.2,185.0L598.8,186.2L610.0,190.0M610.0,190.0L630.0,197.5M630.0,197.5L650.0,207.5M650.0,207.5L666.2,216.2M666.2,216.2L677.5,216.2M677.5,216.2L686.2,211.2M686.2,211.2L675.0,197.5L670.0,185.0L671.2,172.5L675.0,162.5L676.2,145.0L666.2,137.5L657.5,137.5L642.5,130.0L646.2,120.0L636.2,118.8L630.0,107.5L631.2,100.0L630.0,95.0M630.0,95.0L627.5,85.0L618.8,76.2M618.2,76.8L603.8,91.2M565.0,192.5L566.2,208.8M566.8,208.8L580.0,210.0M580.0,210.0L582.5,220.0M582.5,220.0L586.5,222.4M651.8,248.3L654.5,242.0M654.5,242.0L657.5,235.0M657.5,235.0L666.2,216.2M610.0,190.0L596.2,185.0M596.2,185.0L595.0,184.7M595.0,184.7L587.5,182.5L586.6,182.9M586.6,182.9L565.0,192.5M566.2,208.8L565.6,222.7M657.5,235.0L657.5,242.8M715.6,263.4L712.5,252.5L705.0,242.5L695.0,235.0L690.0,222.5L686.2,211.2M652.5,250.0L651.6,250.9M651.6,250.9L650.8,251.7M288.8,330.0L277.5,350.0L263.8,367.0M263.8,367.0L298.8,375.0M298.8,375.0L302.5,387.5M302.5,387.5L322.7,379.6M323.7,372.7L321.2,361.2M321.2,361.2L327.5,353.8M327.5,353.8L318.8,350.0M318.8,350.0L318.5,315.5M294.5,319.8L289.3,329.0M289.3,329.0L288.8,330.0M302.5,387.5L300.0,395.0M300.0,395.0L320.0,410.0M320.0,410.0L322.2,418.7M363.0,372.7L362.5,358.2M362.5,357.5L343.8,351.2M343.8,351.2L342.8,313.0M263.8,367.0L247.5,385.0L230.0,403.8M230.0,403.8L247.5,405.0M247.5,405.0L252.5,420.0M252.5,420.0L266.2,422.5M266.2,422.5L270.0,410.0M270.0,410.0L285.0,417.5M285.0,417.5L302.5,432.5M303.0,432.3L303.8,432.0M303.8,432.0L311.0,429.5M311.0,429.5L322.8,425.3M322.8,421.0L322.2,418.7M230.0,403.8L212.5,425.0L206.1,432.0M206.1,432.0L198.8,440.0M289.3,448.4L290.0,447.5M290.0,447.5L305.0,440.0M305.0,440.0L303.3,435.0M355.3,428.1L355.0,427.5L354.9,427.5M354.9,427.5L350.5,428.3M302.8,433.5L303.1,434.3M342.8,313.0L344.0,351.0L362.5,357.5M442.7,328.2L443.9,326.8M444.4,326.2L447.5,322.5M448.7,320.3L448.3,321.7M448.3,321.7L447.9,323.2M453.8,333.4L454.3,334.1M462.0,333.2L465.0,332.5M465.0,332.5L467.2,333.2M408.9,367.0L407.5,367.5M407.5,367.5L406.2,367.9M448.8,335.4L448.8,335.0L450.6,335.0M447.9,323.2L447.5,322.5M483.0,342.0L480.0,337.5M480.0,337.5L477.8,336.8M480.8,336.8L480.0,337.5M480.0,337.5L485.0,340.0M485.0,340.0L485.8,340.3M559.6,306.4L565.0,307.5M565.0,307.5L567.1,307.5M585.0,298.8L583.9,298.5M555.5,324.5L556.4,323.6M556.4,323.6L557.2,322.8M561.6,315.9L565.0,307.5M591.0,298.0L605.0,305.0M620.5,298.1L620.7,297.2M627.3,263.4L637.5,260.0M637.5,260.0L651.2,255.0M651.2,255.0L651.6,250.9M651.6,250.9L651.8,248.3M651.8,248.3L652.3,242.0M605.0,305.0L605.9,306.4M627.3,321.2L645.0,330.0M645.0,330.0L649.8,360.9M657.3,356.5L665.0,350.0M665.0,350.0L680.0,330.0M680.0,330.0L687.5,315.0M687.5,315.0L690.0,292.5M690.0,292.5L680.0,272.5M680.0,272.5L672.5,260.0M672.5,260.0L665.0,242.5M665.0,242.5L663.0,242.0M654.5,242.0L652.5,250.0M652.5,250.0L651.2,255.0M690.0,292.5L695.0,295.0L695.8,296.2M695.8,296.2L697.8,299.7M697.8,299.7L710.0,320.0M710.0,320.0L717.5,327.5M717.5,327.5L730.0,307.5L735.0,292.5L725.0,277.5L715.6,263.4M715.6,263.4L715.0,262.5L703.6,242.0M690.0,296.2L687.5,315.0M665.0,350.0L649.8,360.9M649.8,360.9L649.1,361.4M660.7,372.5L670.0,365.0M670.0,365.0L685.0,352.5M685.0,352.5L700.0,342.5M700.0,342.5L707.5,335.0M707.5,335.0L715.0,332.5M715.0,332.5L717.5,327.5M710.0,320.0L702.5,310.0L697.8,299.7M697.8,299.7L696.2,296.2L695.8,296.2M695.8,296.2L690.0,296.2M669.7,400.5L672.6,400.8M722.5,372.8L722.5,365.0M722.5,365.0L725.0,350.0M725.0,350.0L715.0,332.5M718.4,420.9L718.9,421.4M718.9,421.4L719.6,422.1M736.9,398.6L742.5,387.5L742.5,365.0L740.0,340.0L735.0,317.5L730.0,315.0L717.5,327.5M558.8,320.0L559.4,320.6M579.5,302.0L575.0,303.7M575.0,303.7L571.7,305.0M571.7,305.0L565.0,307.5M565.0,307.5L558.8,320.0M649.1,372.8L650.0,362.5L649.9,361.6M558.8,320.0L555.3,323.8M555.3,323.8L554.3,324.9M610.7,437.0L610.0,437.5M610.0,437.5L610.6,440.6M610.6,440.6L610.9,442.2M650.0,420.0L650.0,415.0L649.4,412.2M649.4,412.2L648.3,406.7M673.1,405.6L672.6,407.1M719.7,422.5L718.5,422.5M718.5,422.5L717.7,422.5M382.0,252.0L400.0,250.0M400.0,250.0L395.0,235.0M395.0,235.0L398.7,222.0M400.0,250.0L405.0,255.0M405.0,255.0L420.0,255.0M420.0,255.0L437.5,251.2M437.5,251.2L452.5,247.5M452.5,247.5L455.0,246.2M455.0,246.2L443.4,222.0M382.0,319.4L397.5,317.5M397.5,317.5L402.5,307.5M402.5,307.5L405.0,292.5M405.0,292.5L407.5,282.5M407.5,282.5L402.5,272.5M402.5,272.5L391.2,262.5M391.2,262.5L405.0,255.0M407.5,282.5L417.5,288.8M417.5,288.8L427.5,292.5M427.5,292.5L430.0,282.5M430.0,282.5L440.0,276.2M440.0,276.2L455.0,273.8M455.0,273.8L472.5,273.8M474.2,271.5L475.0,267.5M475.0,267.5L465.0,258.8M465.0,258.8L452.5,247.5M475.0,267.5L487.5,275.0M487.5,275.0L497.5,280.0M497.5,280.0L500.0,275.0M500.0,275.0L505.0,260.0M505.0,260.0L500.0,245.0M500.0,245.0L515.0,243.8M515.0,243.8L520.0,235.0M520.0,235.0L516.3,222.0M500.0,275.0L510.0,277.5M510.0,277.5L530.0,275.0M530.0,275.0L552.5,276.2M552.5,276.2L567.5,272.5M567.5,272.5L567.6,271.5M569.4,252.0L570.0,245.0M570.0,245.0L567.9,222.0M570.0,245.0L565.0,270.0L567.5,272.5M567.5,272.5L575.0,280.0M575.0,280.0L587.5,297.5M587.5,297.5L591.0,298.0M591.0,298.0L605.0,300.0M605.0,300.0L620.0,297.5M620.0,297.5L623.8,285.0M623.8,285.0L615.0,275.0M615.0,275.0L605.0,265.0M605.0,265.0L605.0,237.5M605.0,237.5L595.3,222.0M615.0,275.0L620.0,270.0M620.0,270.0L628.0,260.4M620.0,297.5L607.5,302.5M607.5,302.5L606.6,307.2M606.6,307.2L606.2,308.8M606.2,308.8L606.0,310.0M606.0,310.0L605.8,311.0M607.3,315.8L628.0,323.4M402.5,307.5L410.0,317.5M410.0,317.5L417.5,340.0M417.5,340.0L427.5,337.5M427.5,337.5L442.5,327.5M442.5,327.5L447.5,322.5M447.5,322.5L448.3,321.7M448.3,321.7L455.0,315.0M455.0,315.0L450.0,307.5M450.0,307.5L453.8,295.0M453.8,295.0L462.5,290.0M462.5,290.0L472.5,282.5M472.5,282.5L473.2,277.2M403.3,372.8L407.5,367.5M407.5,367.5L415.0,358.1M415.0,358.1L417.5,355.0M417.5,355.0L417.5,340.0M455.0,315.0L450.0,322.5M450.0,322.5L462.5,330.0M462.5,330.0L467.5,332.5M467.5,332.5L477.5,337.5M477.5,337.5L480.0,337.5M480.0,337.5L487.5,337.5M487.5,337.5L485.0,327.5M485.0,327.5L475.0,315.0M475.0,315.0L485.0,310.0M485.0,310.0L487.5,295.0M487.5,295.0L480.0,287.5M480.0,287.5L472.5,282.5M472.5,273.8L472.5,282.5M487.5,337.5L490.0,337.5M490.0,337.5L500.0,345.0M500.0,345.0L510.0,337.5M510.0,337.5L515.0,325.0M515.0,325.0L507.5,317.5M507.5,317.5L500.0,302.5M500.0,302.5L497.5,292.5M497.5,292.5L497.5,280.0M475.0,267.5L472.5,273.8M497.5,280.0L505.0,287.5M505.0,287.5L517.5,295.0M517.5,295.0L527.5,302.5M527.5,302.5L540.0,307.5M540.0,307.5L560.0,305.0M560.0,305.0L571.7,305.0M571.7,305.0L572.5,305.0L575.0,303.7M575.0,303.7L585.0,298.8M585.0,298.8L587.5,297.5M510.0,337.5L515.0,340.0M515.0,340.0L530.0,337.5M530.0,337.5L542.5,332.5M542.5,332.5L555.0,325.0M555.0,325.0L555.3,323.8M555.3,323.8L559.6,306.4M559.6,306.4L560.0,305.0M560.0,320.0L567.5,322.5M567.5,322.5L572.5,327.5M572.5,327.5L580.0,327.5M580.0,327.5L587.5,335.0M587.5,335.0L590.0,347.5M590.0,347.5L607.5,350.0M607.5,350.0L605.0,332.5M605.0,332.5L607.5,317.5M607.5,317.5L607.2,315.8M607.2,315.8L607.0,314.9M606.4,311.9L606.0,310.0M606.0,310.0L605.4,306.8M605.4,306.8L605.0,305.0M605.0,305.0L587.5,297.5M587.5,297.5L585.2,298.8M585.2,298.8L579.5,302.0M579.5,302.0L570.0,307.5L560.0,320.0M601.7,379.8L601.1,383.6M606.1,390.9L608.9,391.4M607.3,315.8L607.5,317.5M603.3,367.4L602.7,372.7M607.3,315.8L606.2,308.8M605.8,311.0L605.0,315.0L606.5,315.5M607.5,302.5L605.0,300.0M605.0,300.0L605.7,304.8M605.7,304.8L605.9,306.4M606.0,307.0L606.2,308.8M542.5,332.5L550.0,345.0M550.0,345.0L562.5,347.5M562.5,347.5L575.0,355.0M575.0,355.0L590.4,372.6M598.5,381.0L600.8,377.6M603.0,372.8L607.5,350.0M560.0,320.0L559.4,320.6M559.4,320.6L557.2,322.8M550.0,366.9L550.0,369.3M550.0,370.0L550.0,372.8M562.5,347.5L557.5,347.5M557.5,347.5L551.2,357.9M487.5,337.5L485.0,340.0M485.0,340.0L483.0,342.0M482.5,342.5L485.0,352.5M485.0,352.5L490.0,360.0M490.0,360.0L490.0,370.0M490.0,370.0L497.5,382.5M497.5,382.5L505.0,370.0M505.0,370.0L515.0,367.5M515.0,367.5L527.5,360.0M538.3,345.0L539.3,345.0M540.0,345.0L550.0,345.0M497.5,382.5L496.8,387.7M539.7,391.7L541.6,391.4M541.8,391.4L548.1,390.3M525.0,347.5L527.5,360.0M527.5,360.0L530.0,375.0L527.8,392.9M536.4,391.1L537.1,390.4M537.1,390.4L545.0,382.5L547.5,376.2M547.5,376.2L548.2,374.4M548.9,372.8L550.0,370.0M550.0,370.0L552.5,360.0L551.2,357.9M551.2,357.9L545.0,347.5L540.0,345.0M540.0,345.0L535.0,342.5L525.0,347.5M447.5,335.0L450.0,352.5M450.0,352.5L440.0,367.5M440.0,367.5L442.5,375.0M442.5,375.0L444.6,387.7M447.5,387.5L452.5,382.5M452.5,382.5L462.5,372.5M462.5,372.5L480.0,372.5M480.0,372.5L490.0,370.0M482.5,342.5L477.5,337.5M467.5,332.5L465.0,332.5M465.0,332.5L457.5,332.5L454.0,333.4M453.8,333.4L447.5,335.0M417.5,355.0L415.0,358.5M415.0,358.5L408.9,367.0M408.9,367.0L405.0,372.5L404.9,372.6M437.3,391.0L442.7,390.3M447.5,335.0L453.5,333.0M453.8,332.9L462.5,330.0M450.0,322.5L448.2,323.7M447.8,324.0L444.4,326.2M444.4,326.2L442.5,327.5M437.3,406.6L442.7,408.4M198.8,440.0L197.5,448.8M197.5,448.8L210.0,452.5M210.0,452.5L225.0,457.5M225.0,457.5L235.0,455.0M235.0,455.0L260.0,453.8M260.0,453.8L267.5,450.0M267.5,450.0L278.2,448.5M285.4,447.3L286.3,446.9M286.3,446.9L302.5,440.0L303.3,435.0M303.3,435.0L303.8,432.0M160.0,453.8L158.8,465.0L152.5,480.0L151.9,488.8M151.9,488.8L151.9,490.0M151.3,498.6L151.2,500.0L151.6,500.3M151.6,500.3L157.5,505.0M157.5,505.0L175.0,492.5M175.0,492.5L187.5,482.5M187.5,482.5L197.5,477.5M197.5,477.5L196.2,445.0L195.0,440.0L180.0,448.8L160.0,453.8M130.0,487.5L130.0,500.0L130.0,512.5L125.0,527.5L120.0,540.0M120.0,540.0L125.0,542.5M125.0,542.5L132.0,535.5M134.4,532.6L142.5,522.5M142.5,522.5L144.0,519.5M144.0,519.5L145.1,517.4M147.8,511.7L148.1,510.6M148.1,510.6L151.6,500.3M151.6,500.3L152.5,497.5L153.8,491.2L151.9,488.8M151.9,488.8L150.0,486.2L130.0,487.5M145.0,512.5L144.0,519.5M144.0,519.5L143.8,521.2L165.0,522.5M165.0,522.5L163.8,550.0L166.2,560.0M166.2,560.0L175.0,560.0M175.0,560.0L175.0,542.5M175.0,542.5L177.5,530.0M177.5,530.0L185.0,522.5M185.0,522.5L180.0,515.0M180.0,515.0L182.5,502.5M182.5,502.5L187.5,490.0M187.5,490.0L195.0,480.0M195.0,480.0L187.5,482.5M157.5,505.0L148.1,510.6M148.1,510.6L145.0,512.5M131.2,535.0L132.0,535.5M132.0,535.5L135.0,537.5M135.0,537.5L150.0,537.5M150.0,537.5L157.5,550.0M157.5,550.0L163.8,552.5M163.8,552.5L162.5,535.0L165.0,522.5M165.0,522.5L142.5,522.5M142.5,522.5L131.2,535.0M185.0,522.5L190.0,530.0M190.0,530.0L195.0,540.0M195.0,540.0L200.0,550.0M200.0,550.0L205.0,545.0M205.0,545.0L215.0,540.0M215.0,540.0L230.0,537.5M230.0,537.5L235.0,530.0M235.0,530.0L235.0,520.0M235.0,520.0L242.5,510.0M242.5,510.0L242.5,505.0M242.5,505.0L235.0,495.0M235.0,495.0L225.0,490.0M225.0,490.0L210.0,485.0M210.0,485.0L195.0,480.0M197.5,448.8L197.5,477.5M197.5,477.5L210.0,485.0M235.0,495.0L250.0,487.5M250.0,487.5L260.0,472.5M260.0,472.5L267.5,470.0M267.5,470.0L267.5,450.0M242.5,510.0L260.0,510.0M260.0,510.0L272.5,515.0M272.5,515.0L282.5,515.0M282.5,515.0L287.5,502.5M287.5,502.5L275.0,490.0M275.0,490.0L267.5,480.0M267.5,480.0L260.0,472.5M267.5,470.0L267.5,480.0M287.5,502.5L292.7,501.5M295.0,451.2L289.3,448.4M289.3,448.4L286.3,446.9M286.3,446.9L285.0,446.2L267.5,450.0M282.5,515.0L282.5,530.0M282.5,530.0L270.0,542.5M270.0,542.5L267.5,550.0M267.5,550.0L260.0,567.5L270.8,567.5M270.8,567.5L274.9,567.5M280.4,567.5L285.0,567.5M285.0,567.5L290.0,567.5L292.8,565.3M230.0,537.5L232.5,560.0M232.5,560.0L227.5,570.0M227.5,570.0L245.0,570.0M245.0,570.0L257.5,567.5L260.0,560.0L267.5,550.0M166.2,560.0L166.2,565.0M166.2,565.0L169.8,572.1M169.8,572.1L170.0,572.5L180.0,575.0M180.0,575.0L187.5,577.5L195.0,577.5M195.0,577.5L201.4,575.9M209.0,571.0L210.0,570.0M210.0,570.0L227.5,570.0M120.0,540.0L112.5,550.0L110.0,567.5L102.5,575.0L97.5,585.0L95.0,605.0L95.6,607.2M157.5,607.5L157.5,605.0M157.5,605.0L157.5,595.0L159.5,589.0M159.5,589.0L160.7,585.4M164.8,570.7L166.2,565.0M166.2,560.0L163.8,552.5M135.0,537.5L132.5,535.0M162.5,570.0L160.0,585.0L159.5,589.0M159.5,589.0L157.5,605.0M157.5,605.0L163.4,607.4M180.9,603.1L185.0,595.0M185.0,595.0L185.8,590.5M186.8,579.5L180.0,575.0M180.0,575.0L169.8,572.1M169.8,572.1L164.8,570.7M164.8,570.7L162.5,570.0M185.0,580.0L185.0,595.0M195.0,577.5L186.8,579.5M186.8,579.5L185.0,580.0M200.0,572.5L201.4,575.9M201.4,575.9L205.0,585.0L202.8,602.7M240.0,605.0L245.0,592.5M245.0,592.5L257.5,585.0M257.5,585.0L257.5,570.0M257.5,570.0L245.0,570.0M210.0,570.0L200.0,572.5M257.5,585.0L262.5,600.0M262.5,600.0L275.2,602.1M275.2,602.1L277.5,602.5L277.9,602.8M292.8,568.8L285.0,567.5M285.0,567.5L277.5,566.2L270.8,567.5M270.8,567.5L257.5,570.0M262.5,600.0L263.9,605.5M264.3,607.4L264.0,606.2M90.9,632.7L90.3,637.5M152.5,605.0L143.2,607.3M143.2,607.3L141.5,607.7M172.7,616.6L171.8,616.8M171.8,616.8L166.8,617.9M305.0,455.0L316.2,467.5M316.2,467.5L307.5,477.5M307.5,477.5L305.0,495.0M305.0,495.0L310.0,487.5M310.0,487.5L335.0,492.5M335.0,492.5L342.5,482.5M342.5,482.5L350.0,467.5M350.0,467.5L364.9,457.6M320.6,432.0L315.0,445.0L305.0,455.0M304.3,496.4L305.0,495.0M305.0,455.0L300.0,452.5L295.0,451.2M295.0,451.2L292.0,450.5M430.0,470.0L421.6,457.4M365.0,457.2L365.0,460.0M365.0,460.0L377.5,475.0M377.5,475.0L390.0,482.5M390.0,482.5L400.0,500.0M400.0,500.0L400.0,522.5M400.0,522.5L405.0,525.0M405.0,525.0L415.0,525.0M415.0,525.0L435.0,507.5M435.0,507.5L432.5,492.5M432.5,492.5L440.0,477.5M440.0,477.5L430.0,470.0M335.0,492.5L350.0,497.5L362.5,502.5M362.5,502.5L365.0,515.0M365.0,515.0L375.0,517.5M375.0,517.5L385.0,510.0M385.0,510.0L386.3,511.1M398.6,521.3L400.0,522.5M365.0,460.0L350.0,467.5M440.0,477.5L442.5,472.5M470.0,472.2L470.0,480.0M470.0,480.0L475.0,492.5M475.0,492.5L490.0,512.5M490.0,512.5L500.0,530.0M500.0,530.0L506.2,531.2M506.1,530.6L505.9,529.6M503.4,516.9L503.2,515.9M503.2,515.9L502.5,512.5M502.5,512.5L500.0,497.5M500.0,497.5L494.6,472.3M415.0,525.0L430.0,527.5M430.0,527.5L457.5,525.0M457.5,525.0L460.0,505.0M460.0,505.0L467.5,495.0M467.5,495.0L475.0,492.5M502.5,512.5L504.4,515.3M506.6,515.0L510.0,512.5M510.0,512.5L512.7,512.0M525.8,508.1L526.1,507.2M526.4,510.7L528.3,511.7M457.5,525.0L457.5,550.0M457.5,550.0L455.0,580.0M455.0,580.0L453.7,582.7M487.7,543.8L492.5,540.0M492.5,540.0L497.5,532.5M497.5,532.5L500.0,530.0M502.5,516.2L505.0,530.0M510.0,512.5L504.4,515.3M504.4,515.3L503.2,515.9M508.0,530.7L507.0,531.0M506.2,531.2L504.5,531.5M487.1,544.3L486.0,545.2M292.0,564.0L305.0,557.5M305.0,557.5L317.5,557.5M317.5,557.5L325.0,550.0M325.0,550.0L327.5,535.0M327.5,535.0L322.5,512.5M322.5,512.5L330.0,500.0M330.0,500.0L335.0,492.5M305.0,495.0L292.0,503.7M325.0,550.0L335.0,560.0M335.0,560.0L347.5,562.5M347.5,562.5L362.5,555.0M362.5,555.0L367.5,550.0M367.5,550.0L362.5,535.0M362.5,535.0L365.0,515.0M362.5,502.5L340.0,497.5L330.0,500.0M347.5,562.5L362.5,565.0M362.5,565.0L375.0,565.0M375.0,565.0L390.0,560.0M390.0,560.0L405.0,550.0M405.0,550.0L400.0,535.0M400.0,535.0L400.0,525.0M400.0,525.0L400.0,522.5M400.0,522.5L395.0,512.5L385.0,510.0M405.0,550.0L415.0,547.5M415.0,547.5L425.0,555.0M425.0,555.0L425.0,565.0M425.0,565.0L412.5,580.0M412.5,580.0L410.4,582.6M405.0,525.0L400.0,525.0M437.5,550.0L440.0,560.0L447.5,567.5L452.5,565.0L455.0,555.0L450.0,550.0L445.0,545.0L437.5,550.0M292.0,570.3L305.0,572.5M305.0,572.5L317.5,580.0M317.5,580.0L321.0,582.6M321.0,582.6L327.5,587.5L332.5,587.5M332.5,587.5L333.3,587.5M333.3,587.5L338.5,587.5M344.4,586.8L352.9,585.4M352.9,585.4L355.0,585.0M355.0,585.0L370.0,577.5M370.0,577.5L385.0,570.0M385.0,570.0L395.0,562.5M395.0,562.5L390.0,560.0M405.0,550.0L402.5,557.5M402.5,557.5L410.0,557.5M410.0,557.5L412.5,562.5M412.5,562.5L402.5,572.5M402.5,572.5L395.0,580.0M395.0,580.0L396.6,582.6M355.0,585.0L355.0,587.5M355.0,587.5L355.0,588.6M356.7,589.2L365.0,585.0M365.0,585.0L373.8,583.5M376.9,583.0L380.0,582.5L382.3,582.1M382.3,582.1L395.0,580.0M402.5,557.5L395.0,562.5M360.0,590.0L360.8,593.3M360.8,593.3L361.0,594.1M365.0,585.0L360.0,590.0M318.8,597.6L318.1,593.7M317.5,582.8L317.5,580.0M332.5,587.5L333.5,592.0M333.7,592.7L334.2,595.0M317.7,591.4L317.9,592.4M332.5,587.5L319.0,589.8M319.0,589.8L318.2,589.9M547.5,372.0L547.5,376.2M547.5,376.2L547.5,389.9M547.5,389.9L547.5,390.0L549.3,390.7M557.2,393.9L560.0,395.0M560.0,395.0L570.0,402.5M570.0,402.5L582.5,402.5M582.5,402.5L587.5,390.0M587.5,390.0L597.5,380.0M597.5,380.0L593.5,372.0M598.4,372.0L600.8,377.6M600.8,377.6L601.7,379.8M601.7,379.8L605.0,387.5M605.0,387.5L608.9,391.4M608.9,391.4L610.0,392.5M610.0,392.5L647.5,392.5M647.5,392.5L647.5,372.0M647.5,392.5L655.0,392.5M655.0,392.5L662.5,385.0M662.5,385.0L664.4,372.0M647.5,392.5L648.8,402.5M648.8,402.5L657.5,402.5M657.5,402.5L669.7,400.5M669.7,400.5L672.5,400.0M672.5,400.0L697.5,400.0M697.5,400.0L717.5,395.0M717.5,395.0L722.5,385.0M722.5,385.0L724.4,372.0M697.5,400.0L700.0,407.5M700.0,407.5L705.0,425.0M705.0,425.0L706.3,425.0M717.8,424.2L718.5,422.5M718.5,422.5L718.9,421.4M718.9,421.4L722.5,412.5L730.0,402.5L740.0,390.0L742.0,372.0M557.3,431.5L567.5,430.0M567.5,430.0L575.0,425.0M575.0,425.0L582.5,415.0M582.5,415.0L582.5,402.5M560.0,395.0L557.3,394.5M541.8,391.4L537.1,390.4M537.1,390.4L535.0,390.0L527.8,392.9M527.8,392.9L524.2,394.3M524.2,394.3L523.4,394.6M567.5,430.0L575.0,431.2M575.0,431.2L587.5,430.0M587.5,430.0L595.0,427.5M595.0,427.5L602.5,415.0M602.5,415.0L607.5,395.0M607.5,395.0L606.1,390.9M606.1,390.9L605.0,387.5M605.0,387.5L601.1,383.6M601.1,383.6L598.5,381.0M598.5,381.0L597.5,380.0M587.5,430.0L600.0,435.0M600.0,435.0L610.0,437.5M610.0,437.5L620.0,432.5M620.0,432.5L622.5,420.0M622.5,420.0L630.0,405.0M630.0,405.0L647.5,400.0M647.5,400.0L647.5,392.5M610.0,392.5L607.5,395.0M610.0,437.5L620.0,442.5L630.0,447.5L636.8,452.0M636.8,452.0L637.5,452.5L645.0,450.0M645.0,450.0L652.5,432.5M650.8,423.8L650.0,420.0M650.0,420.0L648.3,406.7M648.3,406.7L647.5,400.0M648.8,402.5L649.4,412.2M649.4,412.2L650.0,420.0M650.0,420.7L650.0,432.5M650.0,432.5L655.0,430.0M655.0,430.0L657.5,422.5M657.5,422.5L665.0,417.5M665.0,417.5L675.0,415.0M675.0,415.0L673.1,405.6M673.1,405.6L672.5,402.5L657.5,402.5M672.6,400.8L673.3,405.0M673.3,405.0L675.0,415.0M675.0,415.0L680.0,422.5M680.0,422.5L685.0,432.5M685.0,432.5L685.0,445.0M685.0,445.0L688.0,439.0M691.6,431.9L692.5,430.0M692.5,430.0L705.0,425.0M655.0,430.0L662.5,435.0M662.5,435.0L672.5,440.0M672.5,440.0L685.0,445.0M689.5,432.8L685.0,445.0M685.0,445.0L689.5,455.2L710.5,447.2L721.5,440.8L718.5,424.8L717.8,424.2M717.8,424.2L712.0,420.0L705.0,425.0M692.5,430.0L689.5,432.8M650.0,432.5L652.5,432.5M645.0,450.0L657.5,457.5M657.5,457.5L670.0,460.0M670.0,460.0L680.0,460.0M680.0,460.0L685.0,460.0M685.0,460.0L690.0,457.5L685.0,445.0M635.0,452.5L635.2,454.2M635.2,454.2L635.4,455.2M635.6,456.5L635.8,458.2M635.8,458.2L637.5,470.0L635.0,485.0M635.0,485.0L645.0,487.5M645.0,487.5L646.4,488.2M650.0,484.1L650.0,483.1M650.0,483.1L650.0,480.0L655.0,472.5M655.0,472.5L665.0,465.0M665.0,465.0L680.0,460.0M645.0,450.0L636.8,452.0M636.8,452.0L635.0,452.5M655.0,472.5L657.5,475.0L665.0,475.0M665.0,475.0L675.0,477.5M675.0,477.5L680.0,475.0L685.0,460.0M647.5,485.0L646.4,488.2M653.6,499.0L654.7,499.4M654.7,499.4L656.2,500.0M656.2,500.0L658.8,490.0M658.8,490.0L657.5,477.5M657.5,477.5L650.0,483.1M650.0,483.1L647.5,485.0M656.2,500.0L660.0,500.0L672.5,492.5L677.5,482.5L675.0,477.5M665.0,475.0L657.5,477.5M552.2,435.8L553.3,437.4M557.2,443.4L560.0,447.5M560.0,447.5L575.0,457.5M575.0,457.5L585.0,457.5M585.0,457.5L597.5,455.0M597.5,455.0L602.5,450.0L603.2,448.8M603.2,448.8L604.0,447.5M608.3,440.3L608.9,439.4M608.9,439.4L610.0,437.5M603.2,440.8L603.2,448.8M603.2,448.8L603.2,452.0L609.5,450.5L613.2,450.9M613.2,450.9L614.5,451.1M617.7,451.4L622.5,452.0L624.2,453.1M626.1,454.2L633.7,459.0M633.7,459.0L635.2,460.0L635.8,458.2M635.8,458.2L636.8,455.2L635.2,454.2M635.2,454.2L627.2,448.8L616.0,447.2L610.6,440.6M610.6,440.6L609.5,439.2L608.9,439.4M608.9,439.4L603.2,440.8M575.0,457.5L582.5,470.0M582.5,470.0L592.5,477.5M592.5,477.5L602.5,475.0L605.0,465.0M605.0,465.0L610.0,452.5M610.0,452.5L605.0,452.5L597.5,455.0M605.0,465.0L602.5,477.5M602.5,477.5L617.5,472.5M617.5,472.5L632.5,465.0M632.5,465.0L635.0,460.0L633.7,459.0M633.7,459.0L625.0,452.5L615.0,450.0L613.2,450.9M613.2,450.9L610.0,452.5M592.5,477.5L595.0,487.5M595.0,487.5L597.5,495.0M597.5,495.0L599.6,505.5M606.9,497.1L607.5,496.2M607.5,496.2L608.2,495.1M610.6,492.2L622.5,487.5M622.5,487.5L635.0,485.0M635.0,485.0L635.0,470.0L632.5,465.0M602.5,477.5L592.5,477.5M562.5,475.0L565.0,497.5M565.0,497.5L575.0,502.5M575.0,502.5L585.0,507.5M585.0,507.5L599.4,507.5M582.5,470.0L575.0,462.5M575.0,462.5L562.5,475.0M525.0,472.5L532.5,472.5M532.5,472.5L533.3,471.7M542.4,472.3L547.5,487.5M547.5,487.5L562.5,487.5M562.5,487.5L562.5,475.0M575.0,462.5L575.0,457.5M560.0,447.5L557.5,445.0M512.0,512.8L527.5,515.0M527.5,515.0L526.4,510.7M526.4,510.7L525.8,508.1M525.8,508.1L525.0,505.0M525.0,505.0L527.5,490.0M527.5,490.0L532.5,472.5M523.9,472.5L520.0,472.5L519.9,472.2M525.0,505.0L526.1,507.2M526.1,507.2L528.3,511.7M528.3,511.7L530.0,515.0L542.5,520.0M542.5,520.0L545.0,502.5M545.0,502.5L545.4,500.2M542.5,487.5L545.0,502.5M542.5,520.0L545.0,522.5M549.4,525.5L551.6,526.0M559.4,526.6L562.5,525.0M562.5,525.0L567.5,510.0M567.5,510.0L565.0,497.5M565.0,497.5L562.5,487.5M547.5,487.5L542.5,487.5M562.5,525.0L563.0,527.2M578.7,522.7L580.0,520.0M580.0,520.0L580.0,510.0M580.0,510.0L575.0,502.5M608.3,538.3L610.0,535.0M610.0,535.0L612.5,528.7M615.0,522.5L600.1,507.6M607.5,492.5L607.5,496.2M607.5,496.2L607.5,506.8M607.8,510.6L615.0,522.5M615.0,522.5L633.9,522.5M634.6,522.5L637.5,522.5M637.5,522.5L647.5,517.5L655.0,512.5L655.0,500.0L654.7,499.4M654.7,499.4L650.0,490.0L647.1,488.5M622.5,487.5L607.5,492.5M613.9,525.4L612.8,528.1M625.9,558.8L627.5,557.5L628.2,555.7M633.1,542.4L637.5,522.5M541.4,522.7L542.5,520.0M542.5,520.0L527.5,515.0M96.6,602.0L95.6,607.2M95.6,607.2L95.0,610.0L92.5,620.0M92.5,620.0L117.5,617.5M117.5,617.5L127.5,615.0M127.5,615.0L140.0,610.0M140.0,610.0L143.2,607.3M143.2,607.3L149.6,602.0M92.5,620.0L90.0,630.0L90.9,632.7M90.9,632.7L92.5,637.5L110.0,640.0M110.0,640.0L112.5,647.5M112.5,647.5L125.0,642.5L135.0,637.5M135.0,637.5L152.5,635.0M152.5,635.0L153.2,632.0M159.2,621.9L165.0,617.5M165.0,617.5L162.5,610.0L157.5,607.5M157.5,607.5L152.5,605.0M152.5,605.0L140.0,610.0M160.2,602.0L163.4,607.4M163.4,607.4L165.0,610.0M165.0,610.0L175.0,615.0M175.0,615.0L182.5,612.5M182.5,612.5L180.9,603.1M180.9,603.1L180.8,602.0M165.0,610.0L171.8,616.8M171.8,616.8L175.0,620.0M175.0,620.0L185.0,625.0M185.0,625.0L192.5,635.0M192.5,635.0L205.0,622.5M205.0,622.5L205.0,610.0M205.0,610.0L201.8,602.0M189.5,602.0L182.5,612.5M205.0,610.0L222.5,612.5M222.5,612.5L240.0,607.5M240.0,607.5L240.0,605.0M240.0,605.0L240.0,602.0M152.5,625.0L152.5,635.0M152.5,635.0L155.0,640.0L162.5,645.0M162.5,645.0L170.0,647.5M170.0,647.5L187.5,647.5M187.5,647.5L192.5,635.0M175.0,620.0L166.8,617.9M166.8,617.9L165.0,617.5M165.0,617.5L152.5,625.0M205.0,622.5L205.0,640.0M205.0,640.0L212.5,652.5M212.5,652.5L222.5,670.0M222.5,670.0L232.5,680.0M232.5,680.0L250.0,680.0M250.0,680.0L265.0,675.0M265.0,675.0L270.0,652.5M270.0,652.5L265.0,630.0M265.0,630.0L262.5,615.0M262.5,615.0L260.6,602.0M251.0,602.0L240.0,607.5M187.5,647.5L185.9,655.7M194.6,671.9L197.5,670.0M197.5,670.0L210.0,672.5M210.0,672.5L222.5,670.0M264.4,602.0L263.9,605.5M263.9,605.5L262.5,615.0M270.0,652.5L272.5,652.5M272.5,652.5L275.0,642.5M275.0,642.5L282.5,635.0M283.8,633.8L285.0,632.5M290.5,608.1L290.3,606.8M282.8,602.8L280.0,602.0M272.5,652.5L280.0,652.5M280.0,652.5L282.6,654.1M288.6,632.5L287.5,632.5M287.5,632.5L285.0,632.5M265.0,675.0L275.0,685.0M275.0,685.0L280.0,700.0M280.0,700.0L282.2,706.7M210.0,672.5L210.0,687.5M210.0,687.5L207.5,697.5M207.5,697.5L200.0,705.0M191.7,723.3L192.5,725.0M192.5,725.0L205.0,725.0L215.0,720.0L225.0,716.2L282.8,715.0M282.8,708.2L282.2,706.7M122.5,645.0L123.2,647.8M123.2,647.8L123.5,649.1M140.4,674.3L141.5,674.7M141.5,674.7L142.5,675.0L146.7,679.2M162.5,645.0L153.8,641.2L152.5,636.2L135.0,637.5M135.0,637.5L122.5,645.0M118.8,650.0L119.5,655.7M123.8,676.0L124.3,677.4M146.3,682.9L146.8,681.7M146.8,681.7L147.4,680.2M147.4,680.0L146.7,679.5M146.7,679.5L142.7,677.1M126.7,655.7L123.8,647.5L123.2,647.8M123.2,647.8L118.8,650.0M87.5,640.0L85.9,662.4M83.3,681.7L80.0,695.0L77.5,710.0L79.3,714.5M135.2,729.3L136.2,729.6M136.2,729.6L137.5,730.0M137.5,730.0L136.5,723.3M123.0,674.3L122.6,673.2M118.8,650.0L112.5,647.5M110.0,640.0L90.3,637.5M90.3,637.5L90.0,637.5L87.5,640.0M200.0,698.3L202.5,700.0M202.5,700.0L207.5,697.5M166.3,735.5L167.5,735.0L177.5,725.0L192.5,725.0M200.0,705.0L202.5,700.0M77.5,722.5L77.5,750.0L81.4,761.6M82.5,764.9L82.5,765.0L100.0,762.5L107.3,757.1M79.8,721.9L77.5,722.5M111.9,758.7L112.2,759.4M112.5,760.0L115.0,756.7M144.9,747.8L146.1,748.2M146.1,748.2L152.5,750.0L152.9,749.8M159.2,746.7L162.5,745.0L162.6,744.7M137.5,730.0L136.1,729.4M112.5,760.0L115.0,762.5M116.7,770.8L117.5,775.0L118.2,774.8M133.3,769.2L137.5,767.5L147.5,765.0L147.7,763.5M149.5,752.7L150.0,750.0L146.7,748.9M129.8,743.7L126.2,742.8M126.2,742.8L125.3,742.6M124.6,743.1L123.3,745.0M282.0,605.5L290.0,607.5M290.0,607.5L292.5,615.0M292.5,615.0L287.5,632.5M287.5,632.5L290.0,635.0M290.0,635.0L325.0,632.5M325.0,632.5L320.0,617.5M320.0,617.5L317.5,595.0L317.7,594.4M317.7,594.4L318.2,592.4M318.2,592.4L319.0,589.8M319.0,589.8L321.0,582.6M282.0,632.5L285.0,632.5M290.0,607.5L282.0,605.9M317.5,592.5L317.7,594.4M317.7,594.4L320.0,617.5M325.0,632.5L337.5,630.4M339.7,626.6L337.5,600.0M337.5,600.0L333.5,592.0M333.5,592.0L332.5,590.0L318.2,592.4M332.5,587.5L337.5,600.0M360.8,593.3L356.7,589.2M356.7,589.2L355.0,587.5M355.0,587.5L352.9,585.4M352.9,585.4L352.5,585.0L332.5,587.5M360.0,595.0L367.5,615.0M367.5,615.0L375.0,612.5M375.0,612.5L405.0,612.5M405.0,612.5L405.0,587.5M405.0,587.5L397.7,582.0M379.0,582.0L375.0,582.5L373.8,583.5M373.8,583.5L361.4,593.9M361.0,594.1L360.0,595.0M405.0,582.0L405.0,587.5M405.0,612.5L437.5,612.5M437.5,612.5L450.0,595.0M450.0,595.0L451.9,582.0M437.5,612.5L462.0,612.5M282.0,651.1L297.5,655.0M297.5,655.0L307.5,662.5M307.5,662.5L322.5,655.0M334.4,655.8L335.0,655.0M335.0,655.0L333.1,651.9M331.9,649.8L327.5,642.5M327.5,642.5L337.5,637.5M337.5,637.5L325.0,632.5M290.0,635.0L283.8,633.8M283.8,633.8L282.0,633.4M282.0,715.5L290.0,716.2M290.0,716.2L307.5,705.0M307.5,705.0L312.5,687.5M312.5,687.5L307.5,662.5M337.5,627.5L337.5,630.4M337.5,630.4L337.5,637.5M332.3,650.4L332.7,651.2M338.7,677.8L340.0,680.0M340.0,680.0L350.0,690.0M350.0,690.0L362.5,692.5M362.5,692.5L375.0,695.0M375.0,695.0L375.0,640.0M375.0,640.0L375.8,639.0M375.8,614.2L375.0,612.5M367.5,615.0L339.7,626.6M339.7,626.6L337.5,627.5M290.0,716.2L375.0,716.2M375.0,716.2L375.0,695.0M340.0,680.0L335.0,657.5L334.4,655.8M334.4,655.8L333.1,651.9M333.1,651.9L332.5,650.0L331.9,649.8M331.9,649.8L325.0,647.5L322.5,655.0M375.0,612.5L375.0,640.0M375.0,716.2L462.0,716.2M462.8,612.5L480.5,612.5M481.2,611.7L480.1,583.9M480.0,583.5L480.0,582.5M481.0,570.6L482.5,552.5M482.5,552.5L487.7,543.8M487.7,543.8L497.5,527.5L494.8,522.0M462.8,716.2L482.0,716.2M482.0,716.2L482.0,665.2M506.6,522.0L505.0,530.0M505.0,530.0L506.1,530.6M506.1,530.6L507.0,531.0M507.0,531.0L515.0,535.0M515.0,535.0L530.0,545.0M530.0,545.0L532.5,540.0M532.5,540.0L533.2,538.5M482.5,552.5L478.8,582.5L480.0,583.5M483.1,586.0L485.0,587.5M485.0,587.5L510.0,577.5M510.0,577.5L532.5,551.2M532.5,551.2L530.0,545.0M515.0,535.0L504.5,531.5M504.5,531.5L500.0,530.0M500.0,530.0L498.2,532.4M498.2,532.4L492.5,540.0M492.5,540.0L482.5,552.5M480.0,580.0L480.1,583.5M480.1,583.9L480.5,612.5M480.5,612.5L482.0,716.2M482.0,716.2L561.2,716.2M561.2,716.2L565.0,585.0M565.0,585.0L562.5,577.5M562.5,577.5L555.0,572.5M555.0,572.5L545.0,557.5M545.0,557.5L532.5,552.5M532.5,552.5L510.0,577.5M485.0,587.5L480.0,580.0M534.4,522.0L532.5,535.0L532.5,540.0M532.5,540.0L532.5,551.2M532.5,551.2L532.5,552.5M561.2,716.2L578.8,716.2M578.8,716.2L578.8,562.5M578.8,562.5L582.5,555.0M582.5,555.0L582.5,547.5M582.5,547.5L580.4,544.3M565.8,528.6L565.0,527.5M565.0,527.5L563.0,527.2M563.0,527.2L559.4,526.6M559.4,526.6L550.0,525.0L548.0,522.0M572.5,537.5L575.0,540.0L582.5,547.5M582.5,555.0L590.0,555.0M590.0,555.0L597.5,550.0M597.5,550.0L605.0,540.0M605.0,540.0L612.5,528.7M612.5,528.7L615.0,525.0M615.0,525.0L613.0,522.0M565.0,522.0L565.0,527.5M565.0,527.5L565.0,530.0L570.0,540.0L572.5,537.5M573.0,537.0L575.0,535.0L573.1,522.0M615.0,525.0L610.0,537.5M610.0,537.5L607.5,552.5M607.5,552.5L615.0,570.0M615.0,570.0L625.0,560.0L625.9,558.8M625.9,558.8L628.2,555.7M628.2,555.7L632.5,550.0L633.1,542.4M633.1,542.4L634.6,522.5M578.8,716.2L612.0,716.2L612.5,650.0L615.0,632.5L617.5,607.5L610.0,585.0L615.0,570.0M610.0,537.5L608.3,538.3M608.3,538.3L605.0,540.0M322.0,422.8L322.8,425.3M322.8,425.3L323.6,427.6M323.6,427.6L334.4,430.0M334.4,430.0L344.0,431.2M344.0,431.2L354.8,427.6M354.9,427.5L362.0,420.4M362.0,420.4L371.6,414.4M371.6,414.4L372.8,410.8M372.8,410.8L382.4,402.4M382.4,402.4L386.0,395.2M386.0,395.2L371.6,395.2M371.6,395.2L364.4,390.4M364.4,390.4L361.9,372.0M371.6,395.2L386.0,394.6M386.0,394.6L386.2,392.5M386.2,392.5L387.2,382.0M387.2,382.0L392.0,377.2M392.0,377.2L407.6,373.6M407.6,373.6L408.0,372.0M387.2,382.0L387.2,390.4M387.2,390.4L404.0,388.0M404.0,388.0L414.8,395.2M414.8,395.2L423.2,388.0M423.2,388.0L437.3,391.0M414.8,395.2L416.0,395.8M416.0,395.8L438.0,407.3M371.6,414.4L396.8,427.6M396.8,427.6L416.0,444.4M416.0,444.4L419.0,458.0M387.2,390.4L386.6,392.5M386.6,392.5L386.0,394.6M362.1,458.0L353.6,428.8M353.6,428.8L344.0,431.2M323.6,427.6L322.0,427.6M354.8,427.6L353.6,428.8M442.0,408.1L444.8,408.4M444.8,408.4L452.0,417.4M452.0,417.4L460.4,417.4M460.4,417.4L476.0,413.8M476.0,413.8L494.1,413.2M494.6,413.2L494.0,400.6M494.0,400.6L491.6,393.4M491.6,393.4L492.5,387.0M494.6,413.2L498.8,411.4M498.8,411.4L512.0,401.8M512.0,401.8L524.0,395.8M524.0,395.8L524.2,394.3M524.2,394.3L525.3,387.0M498.8,411.4L498.8,414.4M498.8,414.4L512.0,423.4M512.0,423.4L526.4,430.6M526.4,430.6L538.4,427.0M538.4,427.0L545.6,429.4M545.6,429.4L558.0,430.1M558.0,391.1L548.0,389.8L547.5,389.9M547.5,389.9L541.8,391.4M541.6,391.4L524.0,395.8M545.6,429.4L551.6,435.4M552.0,435.5L558.0,437.0M444.0,473.0L452.0,454.6M452.0,454.6L458.0,461.8M458.0,461.8L471.4,463.0M471.4,463.0L471.2,459.4M471.2,459.4L472.4,445.0M472.4,445.0L470.0,435.4M470.0,435.4L461.0,424.6M461.0,424.6L460.4,417.4M472.0,473.0L471.4,463.0M471.2,459.4L471.4,463.0M471.4,463.0L472.0,473.0M489.6,473.0L489.2,469.0M489.2,469.0L492.8,457.0M492.8,457.0L491.6,445.0M491.6,445.0L482.0,433.0M482.0,433.0L477.2,421.0M477.2,421.0L476.0,413.8M491.6,445.0L498.8,445.0M498.8,445.0L509.6,451.0M509.6,451.0L515.6,457.0M515.6,457.0L523.9,472.5M524.0,472.6L525.0,472.5M525.0,472.5L533.3,471.7M533.3,471.7L536.0,471.4M536.0,471.4L542.0,461.8M542.0,461.8L548.0,445.0M548.0,445.0L551.6,435.4M498.8,414.4L494.1,413.2M494.1,413.2L494.0,413.2L476.0,413.8M536.0,471.4L535.0,473.0M558.0,439.7L552.2,435.8M86.8,655.0L86.7,656.7L85.9,662.4M85.9,662.4L83.3,681.7M83.3,681.7L81.7,695.0L78.3,706.7L79.3,714.5M79.3,714.5L80.0,720.0M80.0,720.0L98.3,716.7M98.3,716.7L102.3,718.4M107.7,720.8L113.3,723.3M113.3,723.3L114.1,722.9M95.8,655.0L98.3,665.0L103.3,675.0L115.0,703.3L113.3,723.3M114.1,722.9L120.0,720.0M120.0,720.0L132.1,722.4M132.1,722.4L136.5,723.3M136.7,723.3L135.0,705.0M135.0,705.0L136.7,690.0M136.7,690.0L123.5,675.3M123.5,675.3L121.7,673.3M121.7,673.3L121.7,670.6M118.3,655.0L118.3,661.7L121.7,673.3M121.7,673.3L123.3,675.0M123.3,675.0L128.3,680.0L136.7,690.0M136.7,690.0L139.6,688.5M145.5,682.6L142.7,677.1M142.7,677.1L141.7,675.0L141.5,674.7M141.5,674.7L135.0,663.3L131.9,655.0M132.1,655.0L135.0,661.7L140.0,668.3L146.7,675.0M146.7,675.0L155.0,675.0M155.0,675.0L166.7,671.7M166.7,671.7L165.4,655.0M146.7,675.0L146.7,679.2M146.7,679.5L146.7,681.7M146.8,681.7L158.3,686.7M158.3,686.7L171.7,685.0M171.7,685.0L172.5,684.6M183.3,675.0L183.7,674.0M183.7,674.0L185.0,670.0L188.3,656.7L188.3,655.0M170.0,683.3L172.5,684.6M172.8,684.7L176.7,686.7M176.7,686.7L185.0,688.3M185.0,688.3L196.7,695.0M196.7,695.0L200.0,698.3M200.0,675.3L196.7,673.3L194.6,671.9M194.6,671.9L191.7,670.0L183.7,674.0M183.7,674.0L181.7,675.0L170.0,683.3M136.7,723.3L137.8,730.2M137.8,730.2L138.3,733.3M138.3,733.3L151.7,740.0M151.7,740.0L166.7,733.3M166.7,733.3L173.3,725.0L190.0,723.3M190.0,723.3L191.7,715.0M191.7,715.0L198.3,706.7M198.3,706.7L200.0,703.3M176.7,686.7L172.3,685.2M146.7,681.7L145.5,682.6M145.5,682.6L136.7,690.0M190.0,723.3L191.7,723.3M191.7,723.3L200.0,723.3M98.3,716.7L96.7,723.3M96.7,723.3L98.3,733.3M98.3,733.3L105.0,743.3M105.0,743.3L106.7,756.7M107.3,757.1L111.7,760.0L112.2,759.4M112.2,759.4L115.0,756.7M115.0,756.7L123.3,745.0M123.3,745.0L126.2,742.8M126.2,742.8L130.0,740.0M130.0,740.0L131.7,728.3M131.7,728.3L120.0,720.0M113.3,723.3L105.0,718.3L98.3,716.7M130.0,740.0L131.7,743.3M131.7,743.3L145.0,746.7M145.0,746.7L152.9,749.8M152.9,749.8L153.3,750.0L159.2,746.7M159.2,746.7L162.6,744.7M162.6,744.7L165.0,743.3L166.3,735.5M166.3,735.5L166.7,733.3M138.3,733.3L136.2,729.6M136.1,729.4L132.1,722.4M132.1,722.4L131.7,721.7L120.0,720.0M80.0,720.0L79.8,721.9M79.8,721.9L78.3,733.3L80.0,746.7L81.4,761.6M81.4,761.6L81.7,765.0L82.5,764.9M82.5,764.9L100.0,761.7L106.7,756.7M115.0,756.7L115.0,762.5M115.0,762.5L115.0,766.7L116.7,770.8M116.7,770.8L118.2,774.8M118.2,774.8L118.3,775.0L128.3,771.7L133.3,769.2M133.3,769.2L138.3,766.7L147.7,763.5M147.7,763.5L148.3,763.3L150.0,753.3L149.5,752.7M149.5,752.7L146.7,748.9M146.7,748.9L146.1,748.2M146.1,748.2L145.0,746.7M131.7,743.3L129.8,743.7M129.8,743.7L123.3,745.0"/>
<path class="nab" d="M142.5,522.5L131.2,535.0L132.0,535.5L132.5,535.0L135.0,537.5L150.0,537.5L157.5,550.0L163.8,552.5L162.5,535.0L165.0,522.5L142.5,522.5M205.0,585.0L202.9,602.0L201.8,602.0L205.0,610.0L222.5,612.5L240.0,607.5L240.0,605.0L245.0,592.5L257.5,585.0L262.5,600.0L274.5,602.0L280.0,602.0L282.0,602.6L282.0,605.5L290.0,607.5L292.5,615.0L287.5,632.5L290.0,635.0L325.0,632.5L320.0,617.5L317.7,594.4L317.5,592.5L318.2,592.4L319.8,587.1L322.2,586.7L322.4,586.8L320.3,585.2L321.0,582.6L320.5,584.7L321.2,582.0L320.2,582.0L318.0,580.4L317.5,580.0L305.0,572.5L292.0,570.3L292.0,568.7L277.5,566.2L257.5,570.0L245.0,570.0L227.5,570.0L210.0,570.0L200.0,572.5L205.0,585.0M162.5,570.0L160.0,585.0L157.5,605.0L160.0,606.0L160.0,607.5L160.0,607.7L160.0,608.0L159.9,608.2L159.8,608.4L159.7,608.6L162.5,609.7L162.7,609.8L163.0,609.8L163.2,609.9L163.5,609.9L163.7,609.9L164.0,609.8L164.2,609.7L164.4,609.7L164.7,609.5L164.7,609.5L165.0,610.0L175.0,615.0L182.5,612.5L180.9,603.1L185.0,595.0L185.0,580.0L186.8,579.5L180.0,575.0L162.5,570.0M160.2,602.0L163.5,607.5L163.4,607.4L160.2,602.0M166.3,613.4L169.1,614.9L169.7,614.7L165.2,610.2L166.3,613.4M210.0,672.5L197.5,670.0L194.6,671.9L191.7,670.0L181.7,675.0L170.0,683.3L176.7,686.7L185.0,688.3L196.7,695.0L200.0,698.3L202.5,700.0L207.5,697.5L210.0,687.5L210.0,672.5M172.8,684.7L172.5,684.6L171.7,685.0L172.3,685.2L176.7,686.7L172.8,684.7M137.5,730.0L136.1,729.4L138.3,733.3L137.8,730.2L137.5,730.0M151.7,740.0L138.3,733.3L131.7,721.7L120.0,720.0L113.3,723.3L105.0,718.3L98.3,716.7L96.7,723.3L98.3,733.3L105.0,743.3L106.7,756.7L111.7,760.0L112.1,759.6L112.5,760.0L115.0,756.7L123.3,745.0L128.8,740.9L130.4,741.3L130.7,741.4L130.7,741.4L131.7,743.3L145.0,746.7L146.1,748.2L152.5,750.0L152.9,749.8L153.3,750.0L159.2,746.7L162.5,745.0L162.6,744.7L162.1,745.0L165.0,743.3L166.7,733.3L151.7,740.0M311.8,205.5L297.5,203.0L294.9,204.6L294.8,204.6L294.6,204.4L294.4,204.2L294.3,204.0L294.2,204.0L282.5,212.5L273.8,220.0L262.5,237.5L253.8,252.5L250.0,270.0L251.2,272.5L252.2,273.9L255.8,278.9L270.0,282.5L280.0,275.0L287.5,265.0L287.7,267.0L288.0,266.6L290.0,285.0L287.5,305.0L285.0,322.5L289.3,329.0L294.5,319.8L297.5,315.0L308.8,303.8L316.2,290.0L303.8,282.5L305.0,270.0L306.6,263.4L305.0,262.5L296.2,257.5L297.5,242.5L302.5,232.5L312.5,215.0L315.5,207.9L315.9,208.0L316.8,205.7L320.0,197.5L322.5,190.0L323.8,186.2L326.2,181.8L329.7,175.5L330.0,175.0L346.2,163.0L341.2,159.2L311.2,159.2L306.2,163.8L305.0,185.0L310.0,203.8L312.4,204.4L312.4,204.5L312.3,204.8L312.2,205.0L312.1,205.2L311.9,205.4L311.8,205.5M452.5,247.5L437.5,251.2L420.0,255.0L405.0,255.0L391.2,262.5L402.5,272.5L407.5,282.5L417.5,288.8L427.5,292.5L430.0,282.5L440.0,276.2L455.0,273.8L472.5,273.8L475.0,267.5L465.0,258.8L452.5,247.5M490.0,360.0L485.0,352.5L482.5,342.5L483.0,342.0L484.8,340.2L484.5,339.8L480.0,337.5L477.5,337.5L467.5,332.5L457.5,332.5L447.5,335.0L450.0,352.5L440.0,367.5L442.5,375.0L444.5,387.0L448.0,387.0L452.5,382.5L462.5,372.5L480.0,372.5L490.0,370.0L490.0,360.0M287.5,502.5L292.0,501.6L292.0,503.7L305.0,495.0L307.5,477.5L316.2,467.5L305.0,455.0L300.0,452.5L295.0,451.2L285.0,446.2L267.5,450.0L260.0,453.8L235.0,455.0L225.0,457.5L210.0,452.5L197.5,448.8L197.5,477.5L210.0,485.0L225.0,490.0L235.0,495.0L250.0,487.5L260.0,472.5L267.5,470.0L267.5,480.0L275.0,490.0L287.5,502.5M362.5,502.5L346.3,498.9L341.2,497.2L340.0,497.5L330.0,500.0L322.5,512.5L327.5,535.0L325.0,550.0L335.0,560.0L347.5,562.5L362.5,555.0L367.5,550.0L362.5,535.0L365.0,515.0L362.5,502.5M340.0,680.0L335.0,657.5L332.5,650.0L325.0,647.5L322.5,655.0L307.5,662.5L312.5,687.5L307.5,705.0L290.0,716.2L375.0,716.2L375.0,695.0L362.5,692.5L350.0,690.0L340.0,680.0M612.5,150.0L620.0,145.0L621.2,122.5L603.8,91.2L560.0,133.8L570.0,150.0L575.0,157.5L586.6,182.9L587.5,182.5L595.0,184.7L595.1,184.6L588.8,182.5L596.2,185.0L598.8,165.0L613.8,162.5L616.2,157.5L612.5,150.0M605.4,306.8L606.0,310.0L606.2,308.8L606.0,307.0L605.4,306.8M559.4,320.6L560.0,320.0L567.5,322.5L572.5,327.5L580.0,327.5L587.5,335.0L590.0,347.5L607.5,350.0L605.0,332.5L607.5,317.5L607.3,315.8L607.2,315.8L607.2,315.8L605.0,315.0L606.0,310.0L605.0,305.0L587.5,297.5L570.0,307.5L579.5,302.0L575.0,303.8L572.5,305.0L571.7,305.0L565.0,307.5L558.8,320.0L559.4,320.6M710.0,320.0L702.5,310.0L696.2,296.2L690.0,296.2L687.5,315.0L680.0,330.0L665.0,350.0L649.8,360.9L650.0,362.5L649.2,372.0L647.5,372.0L647.5,392.5L655.0,392.5L662.5,385.0L664.4,372.0L661.2,372.0L670.0,365.0L685.0,352.5L700.0,342.5L707.5,335.0L715.0,332.5L717.5,327.5L710.0,320.0M552.5,360.0L545.0,347.5L535.0,342.5L525.0,347.5L527.5,360.0L530.0,375.0L527.8,392.9L535.0,390.0L537.1,390.4L545.0,382.5L547.5,376.2L547.5,372.0L549.2,372.0L550.0,370.0L552.5,360.0M632.5,452.2L630.0,450.5L629.8,450.5L627.2,448.8L616.0,447.2L609.5,439.2L603.2,440.8L603.2,452.0L604.3,451.8L604.3,451.8L602.8,453.2L605.0,452.5L610.0,452.5L613.2,450.9L615.0,450.0L625.0,452.5L633.7,459.0L635.2,460.0L636.8,455.2L632.5,452.3L632.5,452.2M675.0,477.5L665.0,475.0L657.5,477.5L658.8,490.0L656.2,500.0L660.0,500.0L672.5,492.5L677.5,482.5L675.0,477.5M565.0,527.5L565.0,530.0L570.0,540.0L575.0,535.0L573.1,522.0L579.0,522.0L580.0,520.0L580.0,510.0L575.0,502.5L565.0,497.5L567.5,510.0L562.5,525.0L563.0,527.2L565.0,527.5"/>
<path class="ol" d="M80.2,721.8L77.5,722.5L77.5,750.0L81.4,761.6L81.7,765.0L82.5,764.9L82.5,765.0L100.0,762.5L107.3,757.1L111.7,760.0L112.1,759.6L115.0,762.5L115.0,766.7L116.7,770.8L117.5,775.0L118.2,774.8L118.3,775.0L128.3,771.7L133.3,769.2L137.5,767.5L147.5,765.0L147.7,763.5L148.3,763.3L150.0,753.3L146.1,748.2L152.5,750.0L152.9,749.8L153.3,750.0L159.2,746.7L162.5,745.0L162.6,744.7L165.0,743.3L166.3,735.5L167.5,735.0L177.5,725.0L205.0,725.0L215.0,720.0L225.0,716.2L282.0,715.1L282.0,715.5L290.0,716.2L612.0,716.2L612.5,650.0L615.0,632.5L617.5,607.5L610.0,585.0L615.0,570.0L625.0,560.0L625.9,558.8L627.5,557.5L628.2,555.7L632.5,550.0L633.1,542.4L637.5,522.5L647.5,517.5L655.0,512.5L655.0,500.0L660.0,500.0L672.5,492.5L677.5,482.5L675.0,477.5L680.0,475.0L685.0,460.0L690.0,457.5L689.2,455.4L708.5,448.0L710.2,448.0L710.5,447.2L721.5,440.7L718.5,424.8L718.8,423.0L718.9,422.5L718.9,422.5L720.0,416.7L721.6,414.8L726.5,408.8L734.3,400.7L738.5,395.6L742.5,387.5L742.5,365.0L740.0,340.0L735.0,317.5L726.4,313.2L730.0,307.5L735.0,292.5L725.0,277.5L715.6,263.4L712.5,252.5L705.0,242.5L695.0,235.0L690.0,222.5L686.2,211.2L675.0,197.5L670.0,185.0L671.2,172.5L675.0,162.5L676.2,145.0L666.2,137.5L657.5,137.5L642.5,130.0L646.2,120.0L636.2,118.8L630.0,107.5L631.2,100.0L630.0,95.0L630.0,85.0L618.8,76.2L603.8,91.2L560.0,133.8L537.5,133.8L517.5,130.0L500.0,117.5L485.0,125.0L455.0,132.5L425.0,135.0L400.0,153.0L401.9,163.1L381.4,156.3L381.2,155.0L365.0,163.0L370.5,155.0L368.8,147.5L361.2,133.8L352.5,126.2L342.5,135.0L330.0,137.5L315.8,148.5L315.0,143.8L298.8,135.0L287.5,128.8L265.0,131.2L263.4,135.9L249.8,140.2L245.8,147.5L239.2,159.2L236.0,166.5L240.5,164.5L244.5,167.0L243.1,182.9L242.0,184.0L238.0,194.5L231.5,203.8L228.7,211.5L229.1,211.5L225.0,222.5L233.8,245.0L230.0,255.0L228.8,266.2L227.5,266.2L223.8,275.0L221.2,285.0L222.0,295.0L230.0,297.5L237.5,305.0L247.5,307.5L253.8,302.5L260.0,312.5L275.0,316.2L282.5,323.8L286.8,325.2L289.3,329.0L277.5,350.0L263.8,367.0L247.5,385.0L230.0,403.8L212.5,425.0L195.8,443.2L195.0,440.0L180.0,448.8L160.0,453.8L158.8,465.0L152.5,480.0L152.1,486.1L130.0,487.5L130.0,512.5L125.0,527.5L120.0,540.0L112.5,550.0L110.0,567.5L102.5,575.0L97.5,585.0L95.0,605.0L95.6,607.2L95.0,610.0L90.0,630.0L90.9,632.7L90.4,637.1L87.5,640.0L85.9,662.4L83.3,681.7L80.0,695.0L77.5,710.0L79.3,714.5L80.2,721.8M345.7,496.1L330.0,500.0L335.0,492.5L345.7,496.1M325.0,632.5L337.5,630.4L337.5,637.5L325.0,632.5M296.3,257.5L296.9,249.4L312.1,264.6L311.1,266.0L296.3,257.5M260.0,472.5L267.5,470.0L267.5,480.0L260.0,472.5M151.6,500.3L157.5,505.0L148.1,510.6L151.6,500.3"/>
</g>
<path class="bd" d="M419,457L418,480L417,505L419,530M566.7,208.3L583.3,210L580,218.3L586.7,228.3L601.7,231.7L606.7,241.7L606.7,263.3L616.7,271.7"/>

<g class="lab" text-anchor="middle" style="will-change:transform">
<text x="246.0" y="159.2">Koboko</text>
<text x="287.5" y="166.9">Yumbe</text>
<text x="346.0" y="151.9">Moyo</text>
<text x="335.0" y="176.9">Obongi</text>
<text x="346.0" y="203.2">Adjumani</text>
<text x="225.0" y="195.7">Maracha</text>
<text x="386.0" y="218.2">Amuru</text>
<text x="259.0" y="225.7">Arua</text>
<text x="256.0" y="245.7">Madi Okollo</text>
<text x="232.5" y="283.2">Zombo</text>
<text x="269.0" y="306.9">Nebbi</text>
<text x="315.0" y="299.2">Pakwach</text>
<text x="355.0" y="288.2">Nwoya</text>
<text x="422.0" y="234.2">Gulu</text>
<text x="463.8" y="163.2">Lamwo</text>
<text x="528.8" y="181.9">Kitgum</text>
<text x="593.8" y="141.9">Karenga</text>
<text x="481.2" y="239.4">Pader</text>
<text x="540.0" y="241.9">Agago</text>
<text x="618.0" y="228.2">Kotido</text>
<text x="589.0" y="266.9">Abim</text>
<text x="446.0" y="268.2">Omoro</text>
<text x="638.8" y="164.4">Kaabong</text>
<text x="697.5" y="273.2">Moroto</text>
<text x="652.5" y="304.4">Napak</text>
<text x="615.0" y="330.7">Kapelebyong</text>
<text x="591.0" y="345.7">Amuria</text>
<text x="702.5" y="353.2">Nabilatuk</text>
<text x="623.8" y="363.2">Katakwi</text>
<text x="681.0" y="373.2">Nakapiripirit</text>
<text x="743.8" y="371.9">Amudat</text>
<text x="570.0" y="381.2">Soroti</text>
<text x="542.5" y="415.7">Serere</text>
<text x="574.0" y="421.2">Ngora</text>
<text x="625.0" y="412.2">Kumi</text>
<text x="654.0" y="423.7">Bulambuli</text>
<text x="690.5" y="422.7">Kween</text>
<text x="626.0" y="437.7">Bukedea</text>
<text x="728.0" y="438.7">Bukwo</text>
<text x="582.0" y="447.2">Pallisa</text>
<text x="666.0" y="448.2">Sironko</text>
<text x="300.0" y="358.2">Buliisa</text>
<text x="372.0" y="350.7">Kiryandongo</text>
<text x="340.0" y="384.2">Masindi</text>
<text x="278.8" y="404.4">Hoima</text>
<text x="246.0" y="438.2">Kikuube</text>
<text x="354.5" y="454.2">Kyankwanzi</text>
<text x="435.0" y="308.2">Oyam</text>
<text x="462.5" y="324.2">Kole</text>
<text x="496.0" y="322.2">Lira</text>
<text x="530.0" y="320.7">Alebtong</text>
<text x="542.5" y="295.7">Otuke</text>
<text x="457.5" y="357.2">Kwania</text>
<text x="429.0" y="369.2">Apac</text>
<text x="517.5" y="358.2">Dokolo</text>
<text x="530.0" y="379.2">Kalaki</text>
<text x="473.8" y="405.7">Amolatar</text>
<text x="427.5" y="433.2">Nakasongola</text>
<text x="515.0" y="443.7">Buyende</text>
<text x="175.0" y="474.2">Ntoroko</text>
<text x="229.0" y="474.2">Kagadi</text>
<text x="305.0" y="480.7">Kakumiro</text>
<text x="112.5" y="506.9">Bundibugyo</text>
<text x="260.0" y="499.2">Kibaale</text>
<text x="220.0" y="511.9">Kyenjojo</text>
<text x="176.0" y="514.2">Kabarole</text>
<text x="125.0" y="532.2">Bunyangabu</text>
<text x="272.5" y="540.7">Kyegegwa</text>
<text x="311.0" y="530.2">Mubende</text>
<text x="220.0" y="563.2">Kamwenge</text>
<text x="130.0" y="584.2">Kasese</text>
<text x="147.5" y="600.7">Kitagwenda</text>
<text x="227.5" y="593.2">Kazo</text>
<text x="296.0" y="596.7">Sembabule</text>
<text x="187.5" y="614.2">Ibanda</text>
<text x="299.0" y="608.2">Bukomansimbi</text>
<text x="291.0" y="628.7">Lyantonde</text>
<text x="125.0" y="636.2">Rubirizi</text>
<text x="240.5" y="640.7">Kiruhura</text>
<text x="171.0" y="639.2">Buhweju</text>
<text x="318.0" y="570.7">Gomba</text>
<text x="395.0" y="470.7">Nakaseke</text>
<text x="466.0" y="475.7">Kayunga</text>
<text x="514.5" y="483.7">Kamuli</text>
<text x="369.0" y="495.7">Kiboga</text>
<text x="454.0" y="490.7">Luwero</text>
<text x="529.5" y="503.2">Luuka</text>
<text x="524.5" y="529.2">Jinja</text>
<text x="360.0" y="535.7">Kassanda</text>
<text x="375.0" y="550.7">Mityana</text>
<text x="431.0" y="557.2">Kampala</text>
<text x="502.5" y="561.2">Buikwe</text>
<text x="421.0" y="578.2">Wakiso</text>
<text x="382.5" y="578.2">Butambala</text>
<text x="386.0" y="597.2">Mpigi</text>
<text x="357.0" y="604.2">Kalungu</text>
<text x="556.0" y="467.2">Kaliro</text>
<text x="589.0" y="474.2">Kibuku</text>
<text x="656.0" y="467.2">Mbale</text>
<text x="687.5" y="474.2">Bududa</text>
<text x="606.0" y="494.2">Namutumba</text>
<text x="690.0" y="494.2">Namisindwa</text>
<text x="630.0" y="509.2">Tororo</text>
<text x="592.5" y="533.2">Bugiri</text>
<text x="631.0" y="542.2">Busia</text>
<text x="302.0" y="649.2">Lwengo</text>
<text x="147.5" y="658.2">Bushenyi</text>
<text x="221.0" y="662.2">Mbarara</text>
<text x="114.0" y="672.2">Mitooma</text>
<text x="290.0" y="685.2">Rakai</text>
<text x="211.0" y="683.2">Rwampara</text>
<text x="97.5" y="688.2">Rukungiri</text>
<text x="87.5" y="704.2">Kanungu</text>
<text x="237.5" y="703.2">Isingiro</text>
<text x="162.5" y="714.2">Ntungamo</text>
<text x="151.0" y="733.2">Rukiga</text>
<text x="92.5" y="739.2">Rubanda</text>
<text x="84.0" y="754.2">Kisoro</text>
<text x="145.0" y="765.7">Kabale</text>
<text x="357.5" y="658.2">Masaka</text>
<text x="429.0" y="669.2">Kalangala</text>
<text x="520.0" y="647.2">Buvuma</text>
<text x="332.5" y="697.2">Kyotera</text>
<text x="581.0" y="603.2">Mayuge</text>
<text x="619.0" y="630.7">Namayingo</text>
</g>
<!-- frame -->
<rect x="25" y="25.5" width="949.5" height="788.5" fill="none" stroke="#333" stroke-width="1.6"/>
<g stroke="#333" stroke-width="1.4">
<line x1="375" y1="25" x2="375" y2="33.5"/><line x1="865" y1="25" x2="865" y2="33.5"/>
<line x1="375" y1="806" x2="375" y2="814"/><line x1="865" y1="806" x2="865" y2="814"/>
<line x1="25" y1="104" x2="33" y2="104"/><line x1="25" y1="594.5" x2="33" y2="594.5"/>
<line x1="967" y1="104" x2="974.5" y2="104"/><line x1="967" y1="594.5" x2="974.5" y2="594.5"/>
</g>
<g class="ax" style="will-change:transform">
<text x="374.8" y="22.2" text-anchor="middle" textLength="43" lengthAdjust="spacingAndGlyphs">32.000</text>
<text x="865" y="22.2" text-anchor="middle" textLength="43" lengthAdjust="spacingAndGlyphs">36.000</text>
<text x="374.8" y="829.5" text-anchor="middle" textLength="43" lengthAdjust="spacingAndGlyphs">32.000</text>
<text x="865" y="829.5" text-anchor="middle" textLength="43" lengthAdjust="spacingAndGlyphs">36.000</text>
<text transform="translate(21.3,104) rotate(-90)" text-anchor="middle" textLength="36" lengthAdjust="spacingAndGlyphs">4.000</text>
<text transform="translate(21.3,594.7) rotate(-90)" text-anchor="middle" textLength="36" lengthAdjust="spacingAndGlyphs">0.000</text>
<text transform="translate(991,104) rotate(-90)" text-anchor="middle" textLength="36" lengthAdjust="spacingAndGlyphs">4.000</text>
<text transform="translate(991,594.7) rotate(-90)" text-anchor="middle" textLength="36" lengthAdjust="spacingAndGlyphs">0.000</text>
</g>
<!-- north arrow -->
<g>
<circle cx="107" cy="132.5" r="31.5" fill="none" stroke="#111" stroke-width="3"/>
<circle cx="107" cy="132.5" r="26" fill="none" stroke="#888" stroke-width="0.8"/>
<polygon points="107,84 137,163 107,133.5 77,163" fill="#fff" stroke="none"/>
<polygon points="107,86 107,133.5 78,161" fill="url(#gdots)" stroke="none"/>
<polygon points="107,84 137,163 107,133.5 77,163" fill="none" stroke="#111" stroke-width="3.2" stroke-linejoin="miter"/>
</g>
<!-- legend -->
<rect x="695.5" y="527" width="229" height="233.5" fill="#fff" stroke="#333" stroke-width="1.4"/>
<text class="lg" style="will-change:transform;font-size:18px" x="703.8" y="566.3" textLength="176" lengthAdjust="spacingAndGlyphs">Vulnerability index (%)</text>
<g stroke="#3a2a1a" stroke-opacity="0.75" stroke-width="1.4">
<rect x="704" y="582" width="29" height="16" rx="1" fill="#FCE2A2"/>
<rect x="704" y="612.5" width="29" height="16" rx="1" fill="#FCB24C"/>
<rect x="704" y="643" width="29" height="16" rx="1" fill="#EE8224"/>
<rect x="704" y="673.5" width="29" height="16" rx="1" fill="#CE580E"/>
<rect x="704" y="704" width="29" height="16" rx="1" fill="#9A3506"/>
<rect x="704" y="736.3" width="28.8" height="16" rx="1.2" fill="#fff" stroke="#262626" stroke-width="1.7"/><g fill="#000" stroke="none"><circle cx="708.8" cy="746" r="1.65"/><circle cx="718.8" cy="746" r="1.65"/><circle cx="728.6" cy="746" r="1.65"/><circle cx="713.8" cy="736.4" r="1.3"/><circle cx="723.6" cy="736.4" r="1.3"/></g>
</g>
<g class="lg" style="will-change:transform">
<text x="741.5" y="597.3" textLength="128" lengthAdjust="spacingAndGlyphs">&lt;=&#160;&#160;26.5 (Least)</text>
<text x="741.5" y="627.8" textLength="140" lengthAdjust="spacingAndGlyphs">26.6 -&#160;&#160;42.7 (Less)</text>
<text x="741.5" y="658.3" textLength="174" lengthAdjust="spacingAndGlyphs">42.8 - 52.8 (Moderate)</text>
<text x="741.5" y="688.8" textLength="141" lengthAdjust="spacingAndGlyphs">52.9 - 59.0 (More)</text>
<text x="741.5" y="719.3" textLength="139.5" lengthAdjust="spacingAndGlyphs">59.1 - 76.4 (Most)</text>
<text x="741.5" y="750.3" textLength="95" lengthAdjust="spacingAndGlyphs">Missing data</text>
</g>
</svg>
</body></html>
